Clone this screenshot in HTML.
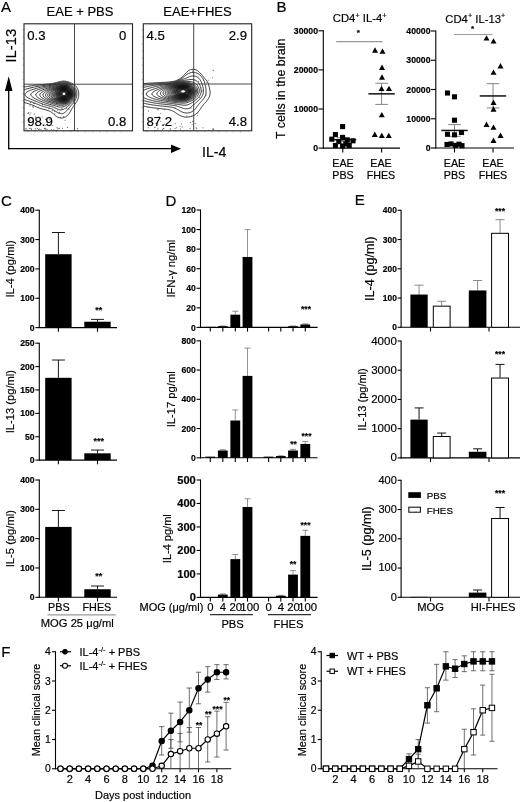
<!DOCTYPE html>
<html><head><meta charset="utf-8"><title>Figure</title>
<style>
html,body{margin:0;padding:0;background:#fff;}
svg{display:block;font-family:'Liberation Sans', sans-serif;}
text{stroke:#000;stroke-width:0.18px;}
</style></head>
<body>
<svg width="520" height="802" viewBox="0 0 520 802">
<rect x="0" y="0" width="520" height="802" fill="#fff"/>
<clipPath id="cA1"><rect x="24" y="23.8" width="108.5" height="107.00000000000001"/></clipPath>
<g clip-path="url(#cA1)">
<path d="M61.4,81.3 L62.0,81.2 L63.0,81.1 L64.0,81.1 L65.0,81.2 L66.0,81.3 L66.5,81.4 L67.5,81.6 L68.0,81.8 L69.0,82.1 L69.5,82.3 L70.5,82.7 L71.0,82.9 L71.7,83.3 L72.5,83.7 L73.0,84.0 L73.5,84.3 L74.3,84.8 L74.9,85.3 L75.5,85.8 L76.0,86.3 L76.4,86.8 L76.7,87.3 L77.0,87.8 L77.5,88.7 L77.8,89.3 L78.0,90.0 L78.3,90.8 L78.5,91.8 L78.6,92.3 L78.7,93.3 L78.7,94.3 L78.7,95.3 L78.6,96.3 L78.5,96.8 L78.3,97.8 L78.0,98.7 L77.8,99.3 L77.5,100.0 L77.1,100.8 L76.9,101.3 L76.5,101.9 L76.0,102.7 L75.6,103.3 L75.3,103.8 L74.9,104.3 L74.5,104.9 L74.0,105.6 L73.5,106.3 L73.1,106.8 L72.8,107.3 L72.5,107.8 L72.0,108.6 L71.6,109.3 L71.3,109.8 L71.0,110.3 L70.5,111.2 L70.2,111.8 L69.9,112.3 L69.5,112.9 L69.0,113.6 L68.5,114.2 L68.0,114.8 L67.5,115.3 L67.0,115.8 L66.5,116.2 L66.0,116.6 L65.5,116.9 L64.6,117.3 L64.0,117.6 L63.1,117.8 L62.5,117.9 L61.5,118.0 L60.5,117.9 L59.8,117.8 L59.0,117.6 L58.2,117.3 L57.5,117.0 L57.0,116.7 L56.4,116.3 L55.7,115.8 L55.1,115.3 L54.5,114.8 L54.0,114.4 L53.5,113.9 L53.0,113.5 L52.5,113.1 L52.0,112.7 L51.5,112.3 L50.7,111.8 L50.0,111.4 L49.5,111.2 L48.6,110.8 L48.0,110.6 L47.1,110.3 L46.5,110.1 L45.5,109.8 L45.0,109.7 L44.0,109.5 L43.5,109.3 L42.5,109.0 L41.8,108.8 L41.0,108.6 L40.2,108.3 L39.5,108.1 L38.8,107.8 L38.0,107.5 L37.5,107.3 L36.5,106.9 L36.0,106.7 L35.1,106.3 L34.5,106.0 L34.0,105.8 L33.0,105.4 L32.5,105.2 L31.5,104.8 L31.0,104.6 L30.1,104.3 L29.5,104.1 L28.7,103.8 L28.0,103.6 L27.1,103.3 L26.5,103.1 L25.5,102.8 L25.0,102.7 L24.0,102.4 L23.5,102.3 L22.5,102.0 L22.0,101.8 L21.0,101.5 L20.4,101.3 L19.5,101.0 L18.9,100.8 L18.0,100.5 L17.5,100.3 L16.5,99.8 L16.0,99.6 L15.4,99.3 L14.6,98.8 L14.0,98.4 L13.5,98.1 L13.0,97.6 L12.5,97.2 L12.0,96.5 L11.6,95.8 L11.4,95.3 L11.3,94.3 L11.5,93.4 L11.8,92.8 L12.1,92.3 L12.5,91.8 L13.1,91.3 L13.7,90.8 L14.4,90.3 L15.0,90.0 L15.5,89.7 L16.3,89.3 L17.0,89.0 L17.5,88.8 L18.5,88.5 L19.0,88.3 L20.0,88.0 L20.6,87.8 L21.5,87.6 L22.5,87.3 L23.0,87.2 L24.0,87.0 L25.0,86.8 L25.5,86.7 L26.5,86.6 L27.5,86.4 L28.1,86.3 L29.0,86.2 L30.0,86.0 L31.0,85.9 L31.5,85.8 L32.5,85.6 L33.5,85.5 L34.5,85.4 L35.3,85.3 L36.0,85.2 L37.0,85.1 L38.0,85.0 L39.0,84.9 L39.7,84.8 L40.5,84.7 L41.5,84.6 L42.5,84.5 L43.5,84.4 L44.5,84.4 L45.3,84.3 L46.0,84.2 L47.0,84.1 L48.0,84.0 L49.0,83.9 L50.0,83.8 L50.5,83.7 L51.5,83.5 L52.5,83.4 L53.0,83.3 L54.0,83.1 L55.0,82.8 L55.5,82.7 L56.5,82.4 L57.1,82.3 L58.0,82.0 L59.0,81.8 L59.5,81.7 L60.5,81.4 L61.4,81.3Z" fill="none" stroke="#111" stroke-width="0.85" />
<path d="M60.7,82.3 L61.5,82.2 L62.5,82.0 L63.5,82.0 L64.5,82.0 L65.5,82.1 L66.5,82.3 L67.0,82.4 L68.0,82.7 L68.5,82.9 L69.5,83.3 L70.0,83.5 L70.6,83.8 L71.5,84.3 L72.0,84.6 L72.5,84.9 L73.0,85.3 L73.5,85.8 L74.0,86.3 L74.5,86.9 L75.0,87.6 L75.4,88.3 L75.7,88.8 L76.0,89.6 L76.3,90.3 L76.5,91.2 L76.6,91.8 L76.8,92.8 L76.8,93.8 L76.8,94.8 L76.7,95.8 L76.5,96.8 L76.4,97.3 L76.1,98.3 L75.9,98.8 L75.5,99.6 L75.2,100.3 L74.9,100.8 L74.5,101.4 L74.0,102.1 L73.5,102.8 L73.1,103.3 L72.7,103.8 L72.2,104.3 L71.8,104.8 L71.3,105.3 L70.9,105.8 L70.4,106.3 L70.0,106.8 L69.5,107.3 L69.0,108.0 L68.5,108.6 L68.0,109.2 L67.5,109.8 L67.1,110.3 L66.7,110.8 L66.3,111.3 L65.7,111.8 L65.1,112.3 L64.5,112.7 L64.0,113.0 L63.4,113.3 L62.5,113.6 L61.5,113.7 L60.5,113.6 L59.5,113.4 L59.0,113.2 L58.0,112.8 L57.5,112.5 L57.0,112.2 L56.4,111.8 L55.7,111.3 L55.0,110.8 L54.5,110.5 L54.0,110.2 L53.4,109.8 L52.5,109.3 L52.0,109.1 L51.3,108.8 L50.5,108.5 L50.0,108.3 L49.0,108.0 L48.3,107.8 L47.5,107.6 L46.5,107.3 L46.0,107.2 L45.0,106.9 L44.5,106.8 L43.5,106.5 L42.9,106.3 L42.0,106.0 L41.4,105.8 L40.5,105.5 L40.0,105.3 L39.0,104.9 L38.5,104.7 L37.5,104.3 L37.0,104.1 L36.3,103.8 L35.5,103.5 L35.0,103.3 L34.0,102.9 L33.5,102.7 L32.5,102.3 L32.0,102.1 L31.1,101.8 L30.5,101.6 L29.7,101.3 L29.0,101.1 L28.3,100.8 L27.5,100.5 L26.8,100.3 L26.0,100.0 L25.4,99.8 L24.5,99.5 L24.0,99.3 L23.0,98.8 L22.5,98.6 L21.9,98.3 L21.0,97.8 L20.5,97.4 L20.0,97.1 L19.5,96.6 L19.0,96.0 L18.6,95.3 L18.5,94.6 L18.5,94.3 L18.8,93.3 L19.2,92.8 L19.6,92.3 L20.2,91.8 L21.0,91.3 L21.5,91.0 L22.0,90.7 L22.9,90.3 L23.5,90.0 L24.1,89.8 L25.0,89.5 L25.6,89.3 L26.5,89.0 L27.2,88.8 L28.0,88.6 L29.0,88.3 L29.5,88.2 L30.5,87.9 L31.0,87.8 L32.0,87.6 L33.0,87.3 L33.5,87.2 L34.5,87.0 L35.5,86.8 L36.0,86.7 L37.0,86.5 L38.0,86.3 L38.5,86.2 L39.5,86.1 L40.5,85.9 L41.3,85.8 L42.0,85.7 L43.0,85.6 L44.0,85.5 L45.0,85.3 L45.5,85.3 L46.5,85.2 L47.5,85.0 L48.5,84.9 L49.3,84.8 L50.0,84.7 L51.0,84.5 L52.0,84.4 L52.5,84.3 L53.5,84.0 L54.5,83.8 L55.0,83.7 L56.0,83.4 L56.6,83.3 L57.5,83.0 L58.5,82.8 L59.0,82.7 L60.0,82.4 L60.7,82.3Z" fill="none" stroke="#111" stroke-width="0.85" />
<path d="M63.1,82.8 L64.0,82.8 L64.5,82.8 L65.5,82.9 L66.5,83.1 L67.3,83.3 L68.0,83.5 L68.8,83.8 L69.5,84.1 L70.0,84.4 L70.7,84.8 L71.4,85.3 L72.0,85.8 L72.5,86.2 L73.0,86.8 L73.4,87.3 L73.8,87.8 L74.1,88.3 L74.5,89.1 L74.8,89.8 L75.0,90.3 L75.3,91.3 L75.5,92.3 L75.5,92.8 L75.6,93.8 L75.5,94.8 L75.5,95.3 L75.3,96.3 L75.1,97.3 L74.9,97.8 L74.5,98.7 L74.2,99.3 L74.0,99.8 L73.5,100.5 L73.0,101.2 L72.6,101.8 L72.1,102.3 L71.7,102.8 L71.2,103.3 L70.7,103.8 L70.1,104.3 L69.5,104.8 L69.0,105.2 L68.5,105.6 L68.0,106.0 L67.5,106.4 L67.0,106.8 L66.4,107.3 L65.8,107.8 L65.1,108.3 L64.5,108.7 L64.0,109.0 L63.5,109.3 L62.5,109.7 L61.9,109.8 L61.0,109.9 L60.0,109.8 L59.5,109.7 L58.5,109.4 L58.0,109.2 L57.1,108.8 L56.5,108.6 L56.0,108.3 L55.0,107.9 L54.5,107.7 L53.6,107.3 L53.0,107.1 L52.2,106.8 L51.5,106.6 L50.6,106.3 L50.0,106.1 L49.0,105.9 L48.5,105.7 L47.5,105.5 L46.9,105.3 L46.0,105.0 L45.2,104.8 L44.5,104.6 L43.6,104.3 L43.0,104.1 L42.1,103.8 L41.5,103.6 L40.8,103.3 L40.0,103.0 L39.5,102.8 L38.5,102.4 L38.0,102.2 L37.2,101.8 L36.5,101.5 L36.0,101.3 L35.0,100.9 L34.5,100.7 L33.6,100.3 L33.0,100.1 L32.4,99.8 L31.5,99.4 L31.0,99.2 L30.1,98.8 L29.5,98.5 L29.0,98.3 L28.0,97.8 L27.5,97.5 L27.0,97.2 L26.4,96.8 L25.8,96.3 L25.4,95.8 L25.0,94.9 L25.0,94.3 L25.1,93.8 L25.5,93.2 L26.0,92.7 L26.5,92.3 L27.2,91.8 L28.0,91.4 L28.5,91.1 L29.3,90.8 L30.0,90.5 L30.5,90.3 L31.5,89.9 L32.0,89.8 L33.0,89.4 L33.5,89.3 L34.5,88.9 L35.0,88.8 L36.0,88.5 L36.6,88.3 L37.5,88.1 L38.4,87.8 L39.0,87.7 L40.0,87.4 L40.5,87.3 L41.5,87.1 L42.5,86.9 L43.0,86.8 L44.0,86.6 L45.0,86.4 L45.5,86.3 L46.5,86.1 L47.5,86.0 L48.5,85.8 L49.0,85.7 L50.0,85.5 L51.0,85.4 L51.5,85.3 L52.5,85.1 L53.5,84.8 L54.0,84.7 L55.0,84.5 L55.7,84.3 L56.5,84.1 L57.5,83.8 L58.0,83.7 L59.0,83.4 L59.7,83.3 L60.5,83.1 L61.5,82.9 L62.5,82.8 L63.1,82.8Z" fill="none" stroke="#111" stroke-width="0.85" />
<path d="M60.8,83.8 L61.5,83.7 L62.5,83.5 L63.5,83.5 L64.5,83.5 L65.5,83.6 L66.5,83.8 L67.0,83.9 L68.0,84.3 L68.5,84.5 L69.2,84.8 L70.0,85.3 L70.5,85.6 L71.0,86.0 L71.5,86.4 L72.0,86.9 L72.5,87.5 L73.0,88.2 L73.4,88.8 L73.6,89.3 L74.0,90.2 L74.2,90.8 L74.4,91.8 L74.5,92.3 L74.6,93.3 L74.6,94.3 L74.5,95.3 L74.5,95.8 L74.2,96.8 L74.0,97.4 L73.7,98.3 L73.4,98.8 L73.0,99.5 L72.5,100.3 L72.1,100.8 L71.7,101.3 L71.2,101.8 L70.7,102.3 L70.1,102.8 L69.5,103.3 L69.0,103.7 L68.5,104.1 L68.0,104.4 L67.3,104.8 L66.5,105.3 L66.0,105.6 L65.5,105.8 L64.5,106.3 L64.0,106.5 L63.0,106.8 L62.5,106.9 L61.5,107.1 L60.5,107.1 L59.5,107.1 L58.5,106.9 L58.0,106.7 L57.0,106.5 L56.5,106.3 L55.5,106.0 L54.9,105.8 L54.0,105.5 L53.2,105.3 L52.5,105.1 L51.5,104.8 L51.0,104.7 L50.0,104.4 L49.5,104.3 L48.5,104.0 L47.8,103.8 L47.0,103.6 L46.2,103.3 L45.5,103.1 L44.6,102.8 L44.0,102.6 L43.3,102.3 L42.5,102.0 L42.0,101.8 L41.0,101.4 L40.5,101.2 L39.6,100.8 L39.0,100.5 L38.5,100.3 L37.5,99.8 L37.0,99.6 L36.5,99.3 L35.5,98.8 L35.0,98.5 L34.5,98.3 L33.7,97.8 L33.0,97.4 L32.5,97.0 L32.0,96.6 L31.5,96.1 L31.0,95.4 L30.8,94.8 L31.0,93.8 L31.3,93.3 L31.8,92.8 L32.5,92.3 L33.0,92.0 L33.5,91.7 L34.3,91.3 L35.0,91.0 L35.5,90.7 L36.5,90.3 L37.0,90.1 L37.9,89.8 L38.5,89.6 L39.3,89.3 L40.0,89.1 L40.8,88.8 L41.5,88.6 L42.4,88.3 L43.0,88.1 L44.0,87.9 L44.5,87.7 L45.5,87.5 L46.1,87.3 L47.0,87.1 L48.0,86.9 L48.5,86.7 L49.5,86.5 L50.5,86.3 L51.0,86.2 L52.0,86.0 L52.7,85.8 L53.5,85.6 L54.5,85.4 L55.0,85.2 L56.0,85.0 L56.7,84.8 L57.5,84.6 L58.5,84.3 L59.0,84.2 L60.0,83.9 L60.8,83.8Z" fill="none" stroke="#111" stroke-width="0.85" />
<path d="M62.0,84.3 L62.5,84.2 L63.5,84.2 L64.5,84.2 L65.5,84.3 L66.0,84.4 L67.0,84.6 L67.5,84.8 L68.5,85.2 L69.0,85.5 L69.6,85.8 L70.3,86.3 L70.8,86.8 L71.4,87.3 L71.8,87.8 L72.2,88.3 L72.5,88.8 L73.0,89.8 L73.2,90.3 L73.5,91.2 L73.7,91.8 L73.8,92.8 L73.9,93.8 L73.8,94.8 L73.6,95.8 L73.5,96.4 L73.2,97.3 L73.0,97.8 L72.5,98.8 L72.2,99.3 L71.8,99.8 L71.4,100.3 L71.0,100.8 L70.5,101.3 L70.0,101.8 L69.3,102.3 L68.6,102.8 L68.0,103.2 L67.5,103.5 L66.9,103.8 L66.0,104.2 L65.5,104.4 L64.5,104.8 L64.0,104.9 L63.0,105.2 L62.0,105.3 L61.5,105.3 L60.5,105.3 L60.0,105.3 L59.0,105.2 L58.0,105.0 L57.0,104.8 L56.5,104.7 L55.5,104.4 L55.0,104.3 L54.0,104.0 L53.2,103.8 L52.5,103.6 L51.5,103.3 L51.0,103.2 L50.0,102.9 L49.5,102.7 L48.5,102.4 L48.0,102.3 L47.0,101.9 L46.5,101.8 L45.5,101.4 L45.0,101.2 L44.0,100.8 L43.5,100.6 L42.9,100.3 L42.0,99.9 L41.5,99.6 L40.8,99.3 L40.0,98.8 L39.5,98.6 L39.0,98.3 L38.3,97.8 L37.6,97.3 L37.0,96.8 L36.5,96.3 L36.2,95.8 L35.9,95.3 L35.9,94.3 L36.1,93.8 L36.5,93.3 L37.0,92.8 L37.7,92.3 L38.5,91.8 L39.0,91.5 L39.5,91.2 L40.4,90.8 L41.0,90.6 L41.6,90.3 L42.5,89.9 L43.0,89.7 L44.0,89.4 L44.5,89.2 L45.5,88.8 L46.0,88.7 L47.0,88.3 L47.5,88.2 L48.5,87.9 L49.0,87.7 L50.0,87.4 L50.5,87.3 L51.5,87.0 L52.2,86.8 L53.0,86.6 L54.0,86.3 L54.5,86.2 L55.5,85.9 L56.0,85.8 L57.0,85.5 L57.6,85.3 L58.5,85.0 L59.5,84.8 L60.0,84.7 L61.0,84.5 L62.0,84.3Z" fill="none" stroke="#111" stroke-width="0.85" />
<path d="M62.7,84.8 L63.5,84.7 L64.5,84.8 L65.0,84.8 L66.0,84.9 L67.0,85.2 L67.5,85.4 L68.4,85.8 L69.0,86.1 L69.5,86.5 L70.0,86.8 L70.5,87.3 L71.0,87.8 L71.5,88.4 L72.0,89.2 L72.3,89.8 L72.6,90.3 L72.9,91.3 L73.0,91.8 L73.2,92.8 L73.2,93.8 L73.2,94.8 L73.0,95.8 L72.9,96.3 L72.5,97.3 L72.3,97.8 L72.0,98.4 L71.5,99.2 L71.0,99.8 L70.6,100.3 L70.1,100.8 L69.5,101.3 L69.0,101.7 L68.5,102.1 L68.0,102.4 L67.2,102.8 L66.5,103.1 L66.0,103.3 L65.0,103.7 L64.5,103.8 L63.5,104.0 L62.5,104.1 L61.5,104.2 L60.5,104.2 L59.5,104.1 L58.5,103.9 L57.9,103.8 L57.0,103.6 L56.0,103.4 L55.5,103.2 L54.5,103.0 L53.9,102.8 L53.0,102.5 L52.2,102.3 L51.5,102.1 L50.6,101.8 L50.0,101.6 L49.1,101.3 L48.5,101.1 L47.7,100.8 L47.0,100.5 L46.5,100.3 L45.5,99.8 L45.0,99.6 L44.4,99.3 L43.5,98.8 L43.0,98.5 L42.5,98.2 L41.9,97.8 L41.3,97.3 L40.7,96.8 L40.3,96.3 L40.0,95.8 L39.8,94.8 L40.0,94.0 L40.5,93.3 L41.0,92.8 L41.5,92.4 L42.0,92.1 L42.5,91.8 L43.3,91.3 L44.0,91.0 L44.5,90.7 L45.4,90.3 L46.0,90.0 L46.5,89.8 L47.5,89.4 L48.0,89.2 L49.0,88.8 L49.5,88.6 L50.3,88.3 L51.0,88.1 L51.8,87.8 L52.5,87.6 L53.4,87.3 L54.0,87.1 L55.0,86.8 L55.5,86.6 L56.5,86.3 L57.0,86.2 L58.0,85.9 L58.5,85.7 L59.5,85.4 L60.0,85.3 L61.0,85.0 L62.0,84.9 L62.7,84.8Z" fill="none" stroke="#111" stroke-width="0.85" />
<path d="M62.7,85.3 L63.5,85.2 L64.5,85.2 L65.1,85.3 L66.0,85.4 L67.0,85.7 L67.5,85.9 L68.3,86.3 L69.0,86.7 L69.5,87.1 L70.0,87.5 L70.5,88.0 L71.0,88.6 L71.5,89.3 L71.8,89.8 L72.0,90.3 L72.4,91.3 L72.5,91.8 L72.7,92.8 L72.7,93.8 L72.7,94.8 L72.5,95.7 L72.3,96.3 L72.0,97.2 L71.7,97.8 L71.4,98.3 L71.0,99.0 L70.5,99.6 L70.0,100.1 L69.5,100.6 L69.0,101.0 L68.5,101.4 L67.8,101.8 L67.0,102.2 L66.5,102.4 L65.5,102.8 L65.0,103.0 L64.0,103.2 L63.0,103.3 L62.5,103.3 L61.5,103.4 L60.6,103.3 L60.0,103.2 L59.0,103.1 L58.0,102.9 L57.5,102.8 L56.5,102.5 L55.6,102.3 L55.0,102.1 L54.0,101.8 L53.5,101.7 L52.5,101.4 L52.0,101.2 L51.0,100.8 L50.5,100.7 L49.6,100.3 L49.0,100.0 L48.5,99.8 L47.5,99.3 L47.0,99.1 L46.5,98.8 L45.7,98.3 L45.0,97.8 L44.5,97.4 L44.0,96.9 L43.5,96.4 L43.2,95.8 L43.0,95.1 L43.0,94.7 L43.3,93.8 L43.7,93.3 L44.2,92.8 L44.8,92.3 L45.5,91.8 L46.0,91.5 L46.5,91.2 L47.2,90.8 L48.0,90.4 L48.5,90.1 L49.2,89.8 L50.0,89.4 L50.5,89.2 L51.5,88.8 L52.0,88.6 L52.8,88.3 L53.5,88.0 L54.2,87.8 L55.0,87.5 L55.6,87.3 L56.5,87.0 L57.0,86.8 L58.0,86.5 L58.5,86.3 L59.5,86.0 L60.1,85.8 L61.0,85.6 L62.0,85.4 L62.7,85.3Z" fill="none" stroke="#111" stroke-width="0.85" />
<path d="M62.3,85.8 L63.0,85.7 L64.0,85.7 L65.0,85.7 L65.5,85.8 L66.5,86.0 L67.3,86.3 L68.0,86.6 L68.5,86.9 L69.1,87.3 L69.7,87.8 L70.2,88.3 L70.6,88.8 L71.0,89.4 L71.5,90.3 L71.7,90.8 L72.0,91.6 L72.2,92.3 L72.3,93.3 L72.3,94.3 L72.1,95.3 L72.0,95.8 L71.7,96.8 L71.5,97.3 L71.0,98.1 L70.5,98.8 L70.1,99.3 L69.7,99.8 L69.1,100.3 L68.5,100.8 L68.0,101.1 L67.5,101.4 L66.6,101.8 L66.0,102.1 L65.2,102.3 L64.5,102.5 L63.5,102.6 L62.5,102.7 L61.5,102.7 L60.5,102.6 L59.5,102.4 L58.8,102.3 L58.0,102.1 L57.0,101.9 L56.5,101.7 L55.5,101.4 L55.0,101.3 L54.0,100.9 L53.5,100.8 L52.5,100.4 L52.0,100.2 L51.0,99.8 L50.5,99.6 L50.0,99.3 L49.0,98.8 L48.5,98.5 L48.0,98.2 L47.5,97.8 L46.9,97.3 L46.4,96.8 L46.0,96.2 L45.6,95.3 L45.7,94.3 L46.0,93.7 L46.5,93.0 L47.0,92.5 L47.5,92.1 L48.0,91.7 L48.6,91.3 L49.4,90.8 L50.0,90.5 L50.5,90.2 L51.3,89.8 L52.0,89.5 L52.5,89.2 L53.5,88.8 L54.0,88.6 L54.7,88.3 L55.5,88.0 L56.0,87.8 L57.0,87.4 L57.5,87.2 L58.5,86.8 L59.0,86.6 L60.0,86.3 L60.5,86.2 L61.5,85.9 L62.3,85.8Z" fill="none" stroke="#111" stroke-width="0.85" />
<path d="M61.8,86.3 L62.5,86.2 L63.5,86.1 L64.5,86.1 L65.5,86.2 L66.0,86.3 L67.0,86.6 L67.5,86.8 L68.4,87.3 L69.0,87.7 L69.5,88.2 L70.0,88.7 L70.5,89.3 L70.8,89.8 L71.1,90.3 L71.5,91.3 L71.6,91.8 L71.8,92.8 L71.9,93.8 L71.8,94.8 L71.6,95.8 L71.4,96.3 L71.0,97.3 L70.7,97.8 L70.4,98.3 L70.0,98.8 L69.5,99.4 L69.0,99.8 L68.4,100.3 L67.6,100.8 L67.0,101.1 L66.5,101.4 L65.5,101.7 L65.0,101.9 L64.0,102.0 L63.0,102.1 L62.0,102.1 L61.0,102.1 L60.0,101.9 L59.5,101.8 L58.5,101.6 L57.5,101.3 L57.0,101.2 L56.0,100.8 L55.5,100.7 L54.5,100.3 L54.0,100.1 L53.2,99.8 L52.5,99.5 L52.0,99.2 L51.1,98.8 L50.5,98.4 L50.0,98.1 L49.5,97.7 L49.0,97.3 L48.5,96.8 L48.0,96.0 L47.7,95.3 L47.8,94.3 L48.0,93.7 L48.5,93.0 L49.0,92.5 L49.5,92.0 L50.0,91.6 L50.5,91.2 L51.2,90.8 L52.0,90.3 L52.5,90.0 L53.0,89.8 L54.0,89.3 L54.5,89.1 L55.1,88.8 L56.0,88.4 L56.5,88.2 L57.3,87.8 L58.0,87.5 L58.6,87.3 L59.5,86.9 L60.0,86.8 L61.0,86.5 L61.8,86.3Z" fill="none" stroke="#111" stroke-width="0.85" />
<path d="M61.3,86.8 L62.0,86.6 L63.0,86.5 L64.0,86.4 L65.0,86.5 L66.0,86.7 L66.5,86.8 L67.5,87.2 L68.0,87.5 L68.5,87.8 L69.1,88.3 L69.6,88.8 L70.0,89.3 L70.5,90.0 L70.9,90.8 L71.1,91.3 L71.4,92.3 L71.5,93.3 L71.5,93.8 L71.5,94.3 L71.3,95.3 L71.0,96.3 L70.8,96.8 L70.5,97.4 L70.0,98.2 L69.5,98.8 L69.0,99.3 L68.5,99.7 L68.0,100.1 L67.5,100.4 L66.7,100.8 L66.0,101.1 L65.4,101.3 L64.5,101.5 L63.5,101.6 L62.5,101.7 L61.5,101.6 L60.5,101.5 L59.7,101.3 L59.0,101.1 L58.0,100.8 L57.5,100.7 L56.5,100.3 L56.0,100.1 L55.1,99.8 L54.5,99.5 L54.0,99.3 L53.0,98.8 L52.5,98.5 L52.0,98.2 L51.4,97.8 L50.8,97.3 L50.3,96.8 L49.9,96.3 L49.5,95.4 L49.4,94.8 L49.5,94.2 L49.9,93.3 L50.3,92.8 L50.7,92.3 L51.3,91.8 L51.9,91.3 L52.5,90.9 L53.0,90.6 L53.5,90.3 L54.4,89.8 L55.0,89.5 L55.5,89.2 L56.3,88.8 L57.0,88.5 L57.5,88.2 L58.5,87.8 L59.0,87.6 L59.7,87.3 L60.5,87.0 L61.3,86.8Z" fill="none" stroke="#111" stroke-width="0.85" />
<path d="M63.3,86.8 L64.0,86.8 L64.7,86.8 L65.5,86.9 L66.5,87.2 L67.0,87.4 L67.8,87.8 L68.5,88.2 L69.0,88.7 L69.5,89.2 L70.0,89.8 L70.3,90.3 L70.5,90.8 L70.9,91.8 L71.0,92.3 L71.2,93.3 L71.1,94.3 L71.0,95.2 L70.9,95.8 L70.5,96.7 L70.2,97.3 L69.9,97.8 L69.5,98.3 L69.0,98.8 L68.5,99.3 L67.8,99.8 L67.0,100.3 L66.5,100.5 L65.7,100.8 L65.0,101.0 L64.0,101.2 L63.0,101.2 L62.0,101.2 L61.0,101.1 L60.0,100.9 L59.5,100.8 L58.5,100.5 L58.0,100.3 L57.0,99.9 L56.5,99.7 L55.6,99.3 L55.0,99.0 L54.5,98.8 L53.7,98.3 L53.0,97.9 L52.5,97.5 L52.0,97.0 L51.5,96.5 L51.1,95.8 L50.9,95.3 L50.9,94.3 L51.0,93.8 L51.5,93.0 L52.0,92.4 L52.5,91.9 L53.0,91.5 L53.5,91.1 L54.0,90.8 L54.7,90.3 L55.5,89.8 L56.0,89.5 L56.5,89.3 L57.3,88.8 L58.0,88.5 L58.5,88.2 L59.5,87.8 L60.0,87.6 L60.8,87.3 L61.5,87.1 L62.5,86.9 L63.3,86.8Z" fill="none" stroke="#111" stroke-width="0.85" />
<path d="M62.1,87.3 L63.0,87.1 L64.0,87.1 L65.0,87.1 L65.8,87.3 L66.5,87.5 L67.2,87.8 L68.0,88.3 L68.5,88.6 L69.0,89.1 L69.5,89.7 L69.9,90.3 L70.2,90.8 L70.5,91.6 L70.7,92.3 L70.8,93.3 L70.8,94.3 L70.7,95.3 L70.5,95.8 L70.1,96.8 L69.8,97.3 L69.5,97.8 L69.0,98.4 L68.5,98.9 L67.9,99.3 L67.2,99.8 L66.5,100.1 L66.0,100.3 L65.0,100.6 L64.0,100.8 L63.5,100.8 L62.5,100.8 L62.0,100.8 L61.0,100.7 L60.0,100.4 L59.5,100.3 L58.5,99.9 L58.0,99.8 L57.0,99.3 L56.5,99.1 L55.9,98.8 L55.0,98.3 L54.5,98.0 L54.0,97.6 L53.5,97.2 L53.0,96.7 L52.5,96.0 L52.2,95.3 L52.1,94.3 L52.5,93.3 L52.8,92.8 L53.2,92.3 L53.7,91.8 L54.3,91.3 L55.0,90.8 L55.5,90.4 L56.0,90.1 L56.5,89.8 L57.3,89.3 L58.0,88.9 L58.5,88.6 L59.2,88.3 L60.0,88.0 L60.5,87.8 L61.5,87.4 L62.1,87.3Z" fill="none" stroke="#111" stroke-width="0.85" />
<path d="M61.4,87.8 L62.0,87.6 L63.0,87.4 L64.0,87.4 L65.0,87.4 L66.0,87.7 L66.5,87.8 L67.5,88.3 L68.0,88.6 L68.5,89.0 L69.0,89.5 L69.5,90.2 L69.9,90.8 L70.1,91.3 L70.4,92.3 L70.5,92.9 L70.6,93.8 L70.5,94.5 L70.3,95.3 L70.0,96.3 L69.8,96.8 L69.4,97.3 L69.0,97.9 L68.5,98.4 L68.0,98.9 L67.4,99.3 L66.5,99.8 L66.0,100.0 L65.0,100.3 L64.5,100.4 L63.5,100.5 L62.5,100.5 L61.5,100.4 L61.0,100.3 L60.0,100.0 L59.4,99.8 L58.5,99.5 L58.0,99.2 L57.1,98.8 L56.5,98.5 L56.0,98.2 L55.4,97.8 L54.8,97.3 L54.2,96.8 L53.8,96.3 L53.5,95.8 L53.2,94.8 L53.3,93.8 L53.5,93.3 L54.0,92.6 L54.5,92.0 L55.0,91.5 L55.5,91.1 L56.0,90.7 L56.5,90.3 L57.3,89.8 L58.0,89.4 L58.5,89.1 L59.0,88.8 L60.0,88.3 L60.5,88.1 L61.4,87.8Z" fill="none" stroke="#111" stroke-width="0.85" />
<path d="M62.6,87.8 L63.5,87.7 L64.5,87.7 L65.3,87.8 L66.0,88.0 L66.9,88.3 L67.5,88.6 L68.0,89.0 L68.5,89.4 L69.0,90.0 L69.5,90.8 L69.8,91.3 L70.0,91.9 L70.2,92.8 L70.3,93.8 L70.2,94.8 L70.0,95.4 L69.7,96.3 L69.4,96.8 L69.0,97.4 L68.5,98.0 L68.0,98.5 L67.5,98.9 L66.8,99.3 L66.0,99.7 L65.5,99.8 L64.5,100.1 L63.5,100.2 L62.5,100.1 L61.5,100.0 L60.7,99.8 L60.0,99.6 L59.2,99.3 L58.5,99.0 L58.0,98.7 L57.2,98.3 L56.5,97.8 L56.0,97.5 L55.5,97.0 L55.0,96.5 L54.5,95.8 L54.3,95.3 L54.2,94.3 L54.5,93.3 L54.7,92.8 L55.1,92.3 L55.5,91.8 L56.1,91.3 L56.6,90.8 L57.3,90.3 L58.0,89.8 L58.5,89.5 L59.0,89.2 L59.7,88.8 L60.5,88.4 L61.0,88.2 L62.0,87.9 L62.6,87.8Z" fill="none" stroke="#111" stroke-width="0.85" />
<path d="M61.8,88.3 L62.5,88.1 L63.5,88.0 L64.5,88.0 L65.5,88.1 L66.1,88.3 L67.0,88.7 L67.5,89.0 L68.0,89.4 L68.5,89.8 L69.0,90.5 L69.5,91.3 L69.7,91.8 L69.9,92.8 L70.0,93.8 L69.9,94.8 L69.6,95.8 L69.4,96.3 L69.0,96.9 L68.5,97.6 L68.0,98.1 L67.5,98.5 L67.0,98.8 L66.1,99.3 L65.5,99.5 L64.5,99.7 L64.0,99.8 L63.0,99.8 L62.5,99.8 L61.5,99.6 L60.5,99.4 L60.0,99.2 L59.1,98.8 L58.5,98.5 L58.0,98.2 L57.3,97.8 L56.7,97.3 L56.1,96.8 L55.7,96.3 L55.4,95.8 L55.0,94.8 L55.1,93.8 L55.5,92.9 L55.9,92.3 L56.3,91.8 L56.8,91.3 L57.3,90.8 L57.9,90.3 L58.5,89.9 L59.0,89.6 L59.5,89.3 L60.4,88.8 L61.0,88.6 L61.8,88.3Z" fill="none" stroke="#111" stroke-width="0.85" />
<path d="M63.0,88.3 L64.0,88.2 L65.0,88.3 L65.5,88.4 L66.5,88.7 L67.0,89.0 L67.5,89.3 L68.1,89.8 L68.5,90.3 L69.0,91.0 L69.4,91.8 L69.5,92.3 L69.7,93.3 L69.7,94.3 L69.5,95.2 L69.3,95.8 L69.0,96.4 L68.5,97.2 L68.0,97.7 L67.5,98.2 L67.0,98.5 L66.5,98.8 L65.5,99.2 L65.0,99.3 L64.0,99.5 L63.0,99.5 L62.0,99.4 L61.5,99.3 L60.5,99.0 L60.0,98.8 L59.0,98.3 L58.5,98.0 L58.0,97.7 L57.5,97.3 L56.9,96.8 L56.5,96.3 L56.0,95.5 L55.8,94.8 L55.8,93.8 L56.0,93.3 L56.5,92.4 L56.9,91.8 L57.4,91.3 L57.9,90.8 L58.5,90.3 L59.0,90.0 L59.5,89.6 L60.1,89.3 L61.0,88.9 L61.5,88.7 L62.5,88.4 L63.0,88.3Z" fill="none" stroke="#111" stroke-width="0.85" />
<path d="M62.0,88.8 L63.0,88.6 L64.0,88.5 L65.0,88.6 L65.9,88.8 L66.5,89.0 L67.0,89.3 L67.7,89.8 L68.2,90.3 L68.6,90.8 L69.0,91.6 L69.3,92.3 L69.4,93.3 L69.4,94.3 L69.2,95.3 L69.0,95.8 L68.5,96.7 L68.0,97.3 L67.5,97.8 L67.0,98.2 L66.5,98.5 L65.8,98.8 L65.0,99.1 L64.0,99.2 L63.0,99.2 L62.0,99.1 L61.0,98.8 L60.5,98.6 L59.7,98.3 L59.0,97.9 L58.5,97.5 L58.0,97.2 L57.5,96.7 L57.0,96.0 L56.6,95.3 L56.5,94.8 L56.5,93.8 L56.6,93.3 L57.0,92.5 L57.5,91.8 L58.0,91.3 L58.5,90.8 L59.0,90.4 L59.5,90.0 L60.0,89.7 L60.8,89.3 L61.5,89.0 L62.0,88.8Z" fill="none" stroke="#111" stroke-width="0.85" />
<path d="M63.4,88.8 L64.0,88.8 L64.7,88.8 L65.5,88.9 L66.5,89.3 L67.0,89.6 L67.5,90.0 L68.0,90.5 L68.5,91.2 L68.8,91.8 L69.0,92.4 L69.2,93.3 L69.1,94.3 L69.0,95.0 L68.7,95.8 L68.4,96.3 L68.0,96.9 L67.5,97.4 L67.0,97.9 L66.2,98.3 L65.5,98.6 L64.8,98.8 L64.0,98.9 L63.0,98.9 L62.2,98.8 L61.5,98.6 L60.5,98.3 L60.0,98.0 L59.5,97.8 L58.8,97.3 L58.3,96.8 L57.8,96.3 L57.5,95.8 L57.1,94.8 L57.1,93.8 L57.4,92.8 L57.7,92.3 L58.0,91.8 L58.5,91.3 L59.0,90.8 L59.6,90.3 L60.4,89.8 L61.0,89.5 L61.5,89.3 L62.5,89.0 L63.4,88.8Z" fill="none" stroke="#111" stroke-width="0.85" />
<path d="M62.3,89.3 L63.0,89.1 L64.0,89.0 L65.0,89.1 L65.8,89.3 L66.5,89.6 L67.0,89.9 L67.5,90.4 L68.0,90.9 L68.5,91.8 L68.7,92.3 L68.9,93.3 L68.9,94.3 L68.6,95.3 L68.4,95.8 L68.0,96.5 L67.5,97.1 L67.0,97.5 L66.5,97.9 L65.6,98.3 L65.0,98.5 L64.0,98.6 L63.0,98.6 L62.0,98.5 L61.4,98.3 L60.5,97.9 L60.0,97.6 L59.5,97.3 L58.9,96.8 L58.4,96.3 L58.0,95.7 L57.6,94.8 L57.6,93.8 L57.9,92.8 L58.2,92.3 L58.5,91.8 L59.0,91.3 L59.5,90.8 L60.2,90.3 L61.0,89.8 L61.5,89.6 L62.3,89.3Z" fill="none" stroke="#111" stroke-width="0.85" />
<path d="M63.7,89.3 L64.5,89.3 L65.0,89.4 L66.0,89.7 L66.5,89.9 L67.0,90.3 L67.6,90.8 L68.0,91.4 L68.4,92.3 L68.6,92.8 L68.6,93.8 L68.5,94.8 L68.3,95.3 L68.0,96.0 L67.5,96.7 L67.0,97.2 L66.5,97.5 L66.0,97.8 L65.0,98.2 L64.5,98.3 L63.5,98.4 L62.8,98.3 L62.0,98.1 L61.0,97.8 L60.5,97.5 L60.0,97.2 L59.4,96.8 L58.9,96.3 L58.5,95.7 L58.1,94.8 L58.1,93.8 L58.4,92.8 L58.7,92.3 L59.0,91.8 L59.5,91.3 L60.0,90.8 L60.7,90.3 L61.5,89.9 L62.0,89.7 L63.0,89.4 L63.7,89.3Z" fill="none" stroke="#111" stroke-width="0.85" />
<path d="M62.4,89.8 L63.0,89.7 L64.0,89.5 L65.0,89.6 L65.6,89.8 L66.5,90.2 L67.0,90.6 L67.5,91.1 L67.9,91.8 L68.1,92.3 L68.4,93.3 L68.3,94.3 L68.1,95.3 L67.8,95.8 L67.5,96.3 L67.0,96.8 L66.4,97.3 L65.5,97.7 L65.0,97.9 L64.0,98.1 L63.0,98.0 L62.0,97.8 L61.5,97.7 L60.8,97.3 L60.0,96.8 L59.5,96.3 L59.1,95.8 L58.8,95.3 L58.5,94.3 L58.7,93.3 L59.0,92.5 L59.5,91.8 L59.9,91.3 L60.5,90.8 L61.0,90.5 L61.5,90.2 L62.4,89.8Z" fill="none" stroke="#111" stroke-width="0.85" />
<path d="M61.9,90.3 L62.5,90.1 L63.5,89.8 L64.5,89.8 L65.5,90.1 L66.1,90.3 L66.8,90.8 L67.3,91.3 L67.6,91.8 L68.0,92.8 L68.1,93.3 L68.1,94.3 L68.0,94.8 L67.5,95.8 L67.1,96.3 L66.6,96.8 L66.0,97.2 L65.5,97.4 L64.5,97.7 L63.5,97.8 L62.5,97.7 L61.5,97.3 L61.0,97.1 L60.5,96.7 L60.0,96.3 L59.5,95.7 L59.1,94.8 L59.0,94.3 L59.0,93.8 L59.3,92.8 L59.5,92.3 L60.0,91.7 L60.5,91.2 L61.0,90.8 L61.9,90.3Z" fill="none" stroke="#111" stroke-width="0.85" />
<path d="M62.7,90.3 L63.5,90.1 L64.5,90.1 L65.4,90.3 L66.0,90.6 L66.5,90.9 L67.0,91.4 L67.5,92.2 L67.7,92.8 L67.8,93.8 L67.7,94.8 L67.5,95.3 L67.0,96.0 L66.5,96.5 L66.0,96.9 L65.1,97.3 L64.5,97.4 L63.5,97.5 L62.5,97.3 L62.0,97.2 L61.2,96.8 L60.5,96.3 L60.1,95.8 L59.7,95.3 L59.5,94.6 L59.4,93.8 L59.5,93.3 L60.0,92.3 L60.4,91.8 L60.9,91.3 L61.5,90.8 L62.0,90.6 L62.7,90.3Z" fill="none" stroke="#111" stroke-width="0.85" />
<path d="M62.2,90.8 L63.0,90.5 L64.0,90.4 L65.0,90.5 L65.8,90.8 L66.5,91.3 L67.0,91.8 L67.2,92.3 L67.5,93.1 L67.6,93.8 L67.5,94.3 L67.1,95.3 L66.8,95.8 L66.3,96.3 L65.6,96.8 L65.0,97.0 L64.0,97.2 L63.0,97.1 L62.0,96.8 L61.5,96.6 L61.0,96.2 L60.5,95.7 L60.0,94.9 L59.9,94.3 L59.9,93.3 L60.1,92.8 L60.5,92.2 L61.0,91.6 L61.5,91.2 L62.2,90.8Z" fill="none" stroke="#111" stroke-width="0.85" />
<path d="M63.1,90.8 L64.0,90.7 L65.0,90.8 L65.5,91.0 L66.1,91.3 L66.6,91.8 L67.0,92.5 L67.2,93.3 L67.2,94.3 L67.0,94.9 L66.5,95.7 L66.0,96.2 L65.5,96.5 L64.7,96.8 L64.0,96.9 L63.0,96.8 L62.5,96.7 L61.7,96.3 L61.1,95.8 L60.7,95.3 L60.4,94.8 L60.3,93.8 L60.5,92.9 L60.8,92.3 L61.3,91.8 L61.9,91.3 L62.5,91.0 L63.1,90.8Z" fill="none" stroke="#111" stroke-width="0.85" />
<path d="M62.6,91.3 L63.5,91.0 L64.5,91.0 L65.5,91.3 L66.0,91.7 L66.5,92.2 L66.8,92.8 L66.9,93.8 L66.7,94.8 L66.4,95.3 L66.0,95.8 L65.2,96.3 L64.5,96.5 L63.5,96.6 L62.5,96.3 L62.0,96.1 L61.5,95.7 L61.0,95.0 L60.7,94.3 L60.8,93.3 L61.0,92.8 L61.5,92.1 L62.0,91.7 L62.6,91.3Z" fill="none" stroke="#111" stroke-width="0.85" />
<path d="M62.4,91.8 L63.0,91.5 L64.0,91.3 L65.0,91.5 L65.6,91.8 L66.1,92.3 L66.5,93.1 L66.6,93.8 L66.5,94.4 L66.0,95.3 L65.5,95.7 L65.0,96.0 L64.0,96.2 L63.0,96.1 L62.3,95.8 L61.7,95.3 L61.3,94.8 L61.1,93.8 L61.4,92.8 L61.8,92.3 L62.4,91.8Z" fill="none" stroke="#111" stroke-width="0.85" />
<path d="M63.3,91.8 L64.0,91.7 L64.8,91.8 L65.5,92.2 L66.0,92.8 L66.2,93.3 L66.1,94.3 L65.9,94.8 L65.4,95.3 L64.5,95.8 L64.0,95.9 L63.4,95.8 L62.5,95.4 L62.0,95.0 L61.7,94.3 L61.7,93.3 L62.0,92.7 L62.5,92.2 L63.3,91.8Z" fill="none" stroke="#111" stroke-width="0.85" />
<path d="M63.2,92.3 L64.0,92.1 L64.8,92.3 L65.5,92.8 L65.7,93.3 L65.6,94.3 L65.3,94.8 L64.6,95.3 L64.0,95.4 L63.3,95.3 L62.5,94.8 L62.2,94.3 L62.3,93.3 L62.5,92.8 L63.2,92.3Z" fill="none" stroke="#111" stroke-width="0.85" />
<path d="M42.5,104.4h0.01M58.2,102.1h0.01M52.7,110.6h0.01M29.8,114.7h0.01M28.8,112.6h0.01M30.4,102.6h0.01M47.4,124.0h0.01M32.9,106.5h0.01M57.1,127.5h0.01M54.7,111.5h0.01M73.9,101.4h0.01M68.2,108.4h0.01M33.9,103.4h0.01M41.8,123.7h0.01M35.7,116.9h0.01M57.7,110.8h0.01M53.3,101.8h0.01M29.9,106.0h0.01M59.7,112.4h0.01M42.1,117.0h0.01M48.8,108.7h0.01M65.1,120.3h0.01M38.7,116.7h0.01M52.2,125.4h0.01M62.0,108.4h0.01M74.0,103.4h0.01M47.1,122.0h0.01M34.3,114.2h0.01M28.9,119.4h0.01M63.7,116.6h0.01M69.0,109.1h0.01M60.4,117.2h0.01M54.8,113.2h0.01M67.3,127.4h0.01M49.8,119.3h0.01M29.9,120.3h0.01M58.1,128.8h0.01M66.5,108.3h0.01M45.5,119.4h0.01M28.1,113.4h0.01M35.1,103.4h0.01M29.8,122.3h0.01M33.2,107.2h0.01M45.8,125.3h0.01M30.9,113.0h0.01M55.7,130.7h0.01M70.2,130.6h0.01M41.0,129.2h0.01M45.4,130.7h0.01M77.7,128.5h0.01M35.5,128.7h0.01M38.6,129.5h0.01M57.8,128.8h0.01M26.2,129.3h0.01M45.9,129.7h0.01M77.5,130.1h0.01M53.8,129.9h0.01M62.5,128.2h0.01M74.6,130.3h0.01M73.2,130.4h0.01M47.2,129.2h0.01M31.6,129.9h0.01M29.4,128.2h0.01M37.3,128.5h0.01M44.4,128.2h0.01M26.0,128.5h0.01M31.5,129.1h0.01M27.4,130.6h0.01M59.2,128.4h0.01M39.6,129.0h0.01M45.7,128.4h0.01M71.8,131.0h0.01M51.2,129.5h0.01M30.6,128.3h0.01M44.5,128.8h0.01" fill="none" stroke="#555" stroke-width="1.1" stroke-linecap="round"/>
</g>
<line x1="74.50" y1="23.80" x2="74.50" y2="130.80" stroke="#333" stroke-width="0.9" stroke-linecap="butt"/>
<line x1="24.00" y1="84.20" x2="132.50" y2="84.20" stroke="#333" stroke-width="0.9" stroke-linecap="butt"/>
<rect x="24.00" y="23.80" width="108.50" height="107.00" fill="none" stroke="#222" stroke-width="1.1"/>
<path d="M22.5,29.8H24M22.5,36.9H24M22.5,43.9H24M22.5,51.0H24M22.5,58.1H24M22.5,65.2H24M22.5,72.2H24M22.5,79.3H24M22.5,86.4H24M22.5,93.4H24M22.5,100.5H24M22.5,107.6H24M22.5,114.7H24M22.5,121.7H24M28.0,130.8V132.3M35.2,130.8V132.3M42.4,130.8V132.3M49.5,130.8V132.3M56.7,130.8V132.3M63.9,130.8V132.3M71.1,130.8V132.3M78.2,130.8V132.3M85.4,130.8V132.3M92.6,130.8V132.3M99.8,130.8V132.3M107.0,130.8V132.3M114.1,130.8V132.3M121.3,130.8V132.3" fill="none" stroke="#666" stroke-width="0.5" />
<text x="27.20" y="39.60" font-size="13.2" text-anchor="start" fill="#000" >0.3</text>
<text x="126.30" y="39.60" font-size="13.2" text-anchor="end" fill="#000" >0</text>
<text x="27.20" y="126.30" font-size="13.2" text-anchor="start" fill="#000" >98.9</text>
<text x="126.30" y="126.30" font-size="13.2" text-anchor="end" fill="#000" >0.8</text>
<clipPath id="cA2"><rect x="143.3" y="23.8" width="108.39999999999998" height="107.00000000000001"/></clipPath>
<g clip-path="url(#cA2)">
<path d="M190.3,69.8 L190.8,69.6 L191.8,69.4 L192.8,69.3 L193.8,69.4 L194.8,69.5 L195.8,69.8 L196.3,70.0 L196.9,70.3 L197.7,70.8 L198.3,71.3 L198.8,71.7 L199.3,72.2 L199.8,72.7 L200.3,73.2 L200.8,73.7 L201.3,74.3 L201.7,74.8 L202.2,75.3 L202.6,75.8 L203.0,76.3 L203.4,76.8 L203.8,77.3 L204.3,77.8 L204.8,78.5 L205.3,79.1 L205.8,79.7 L206.3,80.3 L206.7,80.8 L207.1,81.3 L207.4,81.8 L207.8,82.5 L208.2,83.3 L208.4,83.8 L208.7,84.8 L208.8,85.3 L209.1,86.3 L209.3,87.3 L209.4,87.8 L209.6,88.8 L209.8,89.7 L209.9,90.3 L210.1,91.3 L210.1,92.3 L210.1,93.3 L210.0,94.3 L209.8,95.3 L209.7,95.8 L209.3,96.8 L209.1,97.3 L208.8,97.9 L208.3,98.7 L207.9,99.3 L207.6,99.8 L207.2,100.3 L206.8,100.8 L206.3,101.4 L205.8,102.0 L205.3,102.6 L204.8,103.1 L204.3,103.7 L203.8,104.3 L203.4,104.8 L203.0,105.3 L202.6,105.8 L202.2,106.3 L201.8,106.9 L201.3,107.6 L200.9,108.3 L200.5,108.8 L200.2,109.3 L199.8,109.9 L199.3,110.6 L198.8,111.2 L198.3,111.8 L197.9,112.3 L197.4,112.8 L196.9,113.3 L196.3,113.8 L195.8,114.2 L195.3,114.6 L194.8,114.9 L194.1,115.3 L193.3,115.7 L192.8,115.9 L191.8,116.3 L191.3,116.5 L190.3,116.7 L189.8,116.8 L188.8,117.0 L187.8,117.1 L186.8,117.1 L185.8,117.1 L184.8,117.0 L183.9,116.8 L183.3,116.7 L182.3,116.4 L181.8,116.2 L180.8,115.8 L180.3,115.6 L179.6,115.3 L178.8,114.8 L178.3,114.6 L177.8,114.2 L177.1,113.8 L176.4,113.3 L175.8,112.9 L175.3,112.5 L174.8,112.2 L174.2,111.8 L173.3,111.3 L172.8,111.0 L172.3,110.8 L171.3,110.4 L170.8,110.2 L169.8,109.9 L169.3,109.8 L168.3,109.6 L167.3,109.4 L166.6,109.3 L165.8,109.2 L164.8,109.1 L163.8,109.0 L162.8,108.9 L162.0,108.8 L161.3,108.7 L160.3,108.6 L159.3,108.5 L158.3,108.4 L157.3,108.3 L156.8,108.3 L155.8,108.1 L154.8,108.0 L153.8,107.9 L153.3,107.8 L152.3,107.7 L151.3,107.5 L150.3,107.4 L149.8,107.3 L148.8,107.1 L147.8,107.0 L147.0,106.8 L146.3,106.7 L145.3,106.5 L144.4,106.3 L143.8,106.2 L142.8,106.0 L142.0,105.8 L141.3,105.6 L140.3,105.4 L139.8,105.3 L138.8,105.0 L138.0,104.8 L137.3,104.6 L136.3,104.3 L135.8,104.2 L134.8,103.9 L134.3,103.7 L133.3,103.4 L132.8,103.2 L131.8,102.8 L131.3,102.6 L130.6,102.3 L129.8,101.9 L129.3,101.7 L128.6,101.3 L127.8,100.9 L127.3,100.6 L126.8,100.3 L126.1,99.8 L125.4,99.3 L124.8,98.8 L124.3,98.3 L123.8,97.8 L123.4,97.3 L123.1,96.8 L122.8,96.3 L122.4,95.3 L122.3,94.8 L122.2,93.8 L122.3,93.2 L122.5,92.3 L122.8,91.7 L123.3,90.9 L123.8,90.3 L124.2,89.8 L124.7,89.3 L125.3,88.8 L125.8,88.4 L126.3,88.1 L126.8,87.8 L127.6,87.3 L128.3,86.9 L128.8,86.7 L129.6,86.3 L130.3,86.0 L131.0,85.8 L131.8,85.5 L132.6,85.3 L133.3,85.1 L134.3,84.9 L134.8,84.8 L135.8,84.6 L136.8,84.4 L137.4,84.3 L138.3,84.2 L139.3,84.0 L140.3,83.9 L141.2,83.8 L141.8,83.7 L142.8,83.6 L143.8,83.5 L144.8,83.5 L145.8,83.4 L146.8,83.3 L147.3,83.3 L148.3,83.2 L149.3,83.1 L150.3,83.1 L151.3,83.0 L152.3,83.0 L153.3,82.9 L154.3,82.8 L155.3,82.8 L155.8,82.8 L156.8,82.7 L157.8,82.6 L158.8,82.6 L159.8,82.5 L160.8,82.5 L161.8,82.4 L162.8,82.4 L163.8,82.3 L164.3,82.3 L165.3,82.2 L166.3,82.2 L167.3,82.1 L168.3,82.0 L169.3,81.9 L170.3,81.8 L170.8,81.8 L171.8,81.6 L172.8,81.4 L173.7,81.3 L174.3,81.1 L175.3,80.9 L175.8,80.7 L176.8,80.3 L177.3,80.1 L178.0,79.8 L178.8,79.4 L179.3,79.1 L179.8,78.8 L180.5,78.3 L181.1,77.8 L181.7,77.3 L182.3,76.8 L182.8,76.3 L183.3,75.8 L183.8,75.3 L184.2,74.8 L184.7,74.3 L185.1,73.8 L185.6,73.3 L186.1,72.8 L186.6,72.3 L187.1,71.8 L187.7,71.3 L188.3,70.8 L188.8,70.5 L189.3,70.2 L190.3,69.8Z" fill="none" stroke="#111" stroke-width="0.85" />
<path d="M190.5,72.8 L191.3,72.6 L192.3,72.5 L193.3,72.5 L194.3,72.6 L195.3,72.7 L195.8,72.8 L196.8,73.1 L197.3,73.3 L198.3,73.8 L198.8,74.1 L199.3,74.5 L199.8,74.9 L200.3,75.4 L200.8,75.9 L201.3,76.5 L201.8,77.1 L202.3,77.7 L202.7,78.3 L203.0,78.8 L203.3,79.3 L203.8,80.3 L204.0,80.8 L204.3,81.6 L204.5,82.3 L204.8,83.3 L204.9,83.8 L205.2,84.8 L205.3,85.5 L205.5,86.3 L205.7,87.3 L205.8,88.0 L205.9,88.8 L206.0,89.8 L206.1,90.8 L206.1,91.8 L206.0,92.8 L205.9,93.8 L205.8,94.3 L205.5,95.3 L205.3,95.8 L204.8,96.8 L204.6,97.3 L204.3,97.8 L203.8,98.5 L203.3,99.2 L202.8,99.8 L202.4,100.3 L201.9,100.8 L201.5,101.3 L201.0,101.8 L200.5,102.3 L200.1,102.8 L199.6,103.3 L199.2,103.8 L198.8,104.3 L198.3,104.9 L197.8,105.5 L197.3,106.2 L196.8,106.8 L196.5,107.3 L196.1,107.8 L195.7,108.3 L195.3,108.8 L194.8,109.4 L194.3,109.9 L193.8,110.3 L193.2,110.8 L192.5,111.3 L191.8,111.7 L191.3,112.0 L190.6,112.3 L189.8,112.6 L188.9,112.8 L188.3,112.9 L187.3,113.0 L186.3,113.0 L185.3,112.9 L184.7,112.8 L183.8,112.6 L182.9,112.3 L182.3,112.1 L181.7,111.8 L180.8,111.4 L180.3,111.1 L179.8,110.8 L179.0,110.3 L178.3,109.9 L177.8,109.6 L177.2,109.3 L176.3,108.8 L175.8,108.6 L175.1,108.3 L174.3,108.0 L173.7,107.8 L172.8,107.6 L171.8,107.3 L171.3,107.2 L170.3,107.0 L169.3,106.9 L168.6,106.8 L167.8,106.7 L166.8,106.6 L165.8,106.5 L164.8,106.4 L163.9,106.3 L163.3,106.2 L162.3,106.1 L161.3,106.0 L160.3,105.9 L159.3,105.8 L158.8,105.8 L157.8,105.6 L156.8,105.5 L155.8,105.4 L155.2,105.3 L154.3,105.2 L153.3,105.0 L152.3,104.9 L151.8,104.8 L150.8,104.6 L149.8,104.5 L149.0,104.3 L148.3,104.2 L147.3,104.0 L146.4,103.8 L145.8,103.7 L144.8,103.4 L144.2,103.3 L143.3,103.1 L142.3,102.8 L141.8,102.7 L140.8,102.4 L140.3,102.2 L139.3,101.9 L138.8,101.8 L137.8,101.4 L137.3,101.2 L136.3,100.8 L135.8,100.6 L135.2,100.3 L134.3,99.9 L133.8,99.6 L133.3,99.3 L132.5,98.8 L131.9,98.3 L131.3,97.8 L130.8,97.4 L130.3,96.8 L129.9,96.3 L129.7,95.8 L129.3,94.8 L129.2,94.3 L129.3,93.3 L129.4,92.8 L129.8,91.9 L130.2,91.3 L130.6,90.8 L131.1,90.3 L131.7,89.8 L132.3,89.4 L132.8,89.0 L133.3,88.7 L134.1,88.3 L134.8,87.9 L135.3,87.7 L136.2,87.3 L136.8,87.1 L137.5,86.8 L138.3,86.5 L139.1,86.3 L139.8,86.1 L140.8,85.8 L141.3,85.7 L142.3,85.5 L143.3,85.3 L143.8,85.2 L144.8,85.1 L145.8,84.9 L146.5,84.8 L147.3,84.7 L148.3,84.6 L149.3,84.5 L150.3,84.4 L150.9,84.3 L151.8,84.2 L152.8,84.1 L153.8,84.0 L154.8,83.9 L155.8,83.9 L156.7,83.8 L157.3,83.7 L158.3,83.7 L159.3,83.6 L160.3,83.5 L161.3,83.4 L162.3,83.3 L163.0,83.3 L163.8,83.2 L164.8,83.1 L165.8,83.1 L166.8,83.0 L167.8,82.9 L168.8,82.8 L169.3,82.8 L170.3,82.6 L171.3,82.5 L172.3,82.3 L172.8,82.3 L173.8,82.0 L174.8,81.8 L175.3,81.6 L176.3,81.3 L176.8,81.1 L177.6,80.8 L178.3,80.5 L178.8,80.2 L179.7,79.8 L180.3,79.4 L180.8,79.1 L181.3,78.8 L182.0,78.3 L182.7,77.8 L183.3,77.3 L183.8,76.9 L184.3,76.5 L184.8,76.1 L185.3,75.6 L185.8,75.2 L186.3,74.8 L187.0,74.3 L187.8,73.8 L188.3,73.5 L188.9,73.3 L189.8,73.0 L190.5,72.8Z" fill="none" stroke="#111" stroke-width="0.85" />
<path d="M190.5,76.3 L191.3,76.1 L192.3,76.0 L193.3,75.9 L194.3,76.0 L195.3,76.2 L195.8,76.4 L196.8,76.8 L197.3,77.1 L197.8,77.4 L198.3,77.8 L198.9,78.3 L199.3,78.8 L199.8,79.4 L200.3,80.2 L200.7,80.8 L200.9,81.3 L201.3,82.1 L201.6,82.8 L201.8,83.4 L202.1,84.3 L202.3,84.8 L202.6,85.8 L202.8,86.5 L203.0,87.3 L203.2,88.3 L203.3,89.1 L203.4,89.8 L203.4,90.8 L203.4,91.8 L203.3,92.5 L203.2,93.3 L202.9,94.3 L202.7,94.8 L202.3,95.7 L202.0,96.3 L201.7,96.8 L201.3,97.3 L200.8,98.0 L200.3,98.6 L199.8,99.1 L199.3,99.6 L198.8,100.1 L198.3,100.5 L197.8,101.0 L197.3,101.4 L196.8,101.9 L196.3,102.3 L195.8,102.8 L195.3,103.3 L194.7,103.8 L194.2,104.3 L193.7,104.8 L193.2,105.3 L192.7,105.8 L192.2,106.3 L191.6,106.8 L191.0,107.3 L190.3,107.7 L189.8,108.0 L189.2,108.3 L188.3,108.6 L187.3,108.8 L186.8,108.8 L185.8,108.8 L185.3,108.8 L184.3,108.6 L183.3,108.3 L182.8,108.2 L181.8,107.8 L181.3,107.6 L180.4,107.3 L179.8,107.1 L179.1,106.8 L178.3,106.5 L177.5,106.3 L176.8,106.1 L175.8,105.9 L175.3,105.7 L174.3,105.5 L173.3,105.4 L172.8,105.3 L171.8,105.1 L170.8,105.0 L169.8,104.9 L169.1,104.8 L168.3,104.7 L167.3,104.6 L166.3,104.5 L165.3,104.4 L164.5,104.3 L163.8,104.2 L162.8,104.1 L161.8,104.0 L160.8,103.9 L160.2,103.8 L159.3,103.7 L158.3,103.6 L157.3,103.4 L156.5,103.3 L155.8,103.2 L154.8,103.0 L153.8,102.9 L153.3,102.8 L152.3,102.6 L151.3,102.4 L150.7,102.3 L149.8,102.1 L148.8,101.9 L148.3,101.8 L147.3,101.6 L146.3,101.3 L145.8,101.2 L144.8,100.9 L144.3,100.7 L143.3,100.4 L142.8,100.2 L141.8,99.9 L141.3,99.7 L140.4,99.3 L139.8,99.0 L139.3,98.7 L138.5,98.3 L137.8,97.9 L137.3,97.5 L136.8,97.1 L136.3,96.6 L135.8,96.0 L135.4,95.3 L135.2,94.8 L135.1,93.8 L135.3,93.0 L135.6,92.3 L136.0,91.8 L136.4,91.3 L136.9,90.8 L137.6,90.3 L138.3,89.8 L138.8,89.5 L139.3,89.3 L140.2,88.8 L140.8,88.6 L141.4,88.3 L142.3,88.0 L142.8,87.8 L143.8,87.5 L144.4,87.3 L145.3,87.0 L146.2,86.8 L146.8,86.7 L147.8,86.4 L148.5,86.3 L149.3,86.1 L150.3,85.9 L151.1,85.8 L151.8,85.7 L152.8,85.5 L153.8,85.4 L154.3,85.3 L155.3,85.1 L156.3,85.0 L157.3,84.9 L157.8,84.8 L158.8,84.7 L159.8,84.5 L160.8,84.4 L161.8,84.3 L162.3,84.2 L163.3,84.1 L164.3,84.0 L165.3,83.9 L166.3,83.8 L166.8,83.7 L167.8,83.6 L168.8,83.5 L169.8,83.4 L170.4,83.3 L171.3,83.2 L172.3,83.0 L173.3,82.8 L173.8,82.7 L174.8,82.4 L175.3,82.3 L176.3,82.0 L176.8,81.8 L177.8,81.4 L178.3,81.2 L179.2,80.8 L179.8,80.5 L180.3,80.3 L181.3,79.9 L181.8,79.6 L182.7,79.3 L183.3,79.1 L184.1,78.8 L184.8,78.6 L185.5,78.3 L186.3,78.0 L186.8,77.8 L187.8,77.4 L188.3,77.1 L189.1,76.8 L189.8,76.5 L190.5,76.3Z" fill="none" stroke="#111" stroke-width="0.85" />
<path d="M188.3,79.8 L188.8,79.7 L189.8,79.6 L190.8,79.5 L191.8,79.5 L192.8,79.5 L193.8,79.7 L194.3,79.8 L195.3,80.2 L195.8,80.5 L196.3,80.8 L197.0,81.3 L197.5,81.8 L198.0,82.3 L198.4,82.8 L198.8,83.4 L199.3,84.2 L199.6,84.8 L199.9,85.3 L200.3,86.3 L200.5,86.8 L200.8,87.7 L200.9,88.3 L201.1,89.3 L201.2,90.3 L201.2,91.3 L201.1,92.3 L200.9,93.3 L200.7,93.8 L200.3,94.8 L200.0,95.3 L199.7,95.8 L199.3,96.4 L198.8,97.1 L198.3,97.6 L197.8,98.1 L197.3,98.6 L196.8,99.0 L196.3,99.4 L195.8,99.8 L195.2,100.3 L194.5,100.8 L193.9,101.3 L193.3,101.7 L192.8,102.0 L192.3,102.4 L191.7,102.8 L190.9,103.3 L190.3,103.6 L189.8,103.9 L189.0,104.3 L188.3,104.6 L187.6,104.8 L186.8,105.0 L185.8,105.1 L184.8,105.2 L183.8,105.2 L182.8,105.1 L181.8,105.0 L180.8,104.8 L180.3,104.7 L179.3,104.6 L178.3,104.4 L177.7,104.3 L176.8,104.2 L175.8,104.0 L174.8,103.9 L174.3,103.8 L173.3,103.7 L172.3,103.6 L171.3,103.4 L170.3,103.3 L169.8,103.3 L168.8,103.1 L167.8,103.0 L166.8,102.9 L165.9,102.8 L165.3,102.7 L164.3,102.6 L163.3,102.5 L162.3,102.3 L161.8,102.2 L160.8,102.1 L159.8,101.9 L158.9,101.8 L158.3,101.7 L157.3,101.5 L156.3,101.3 L155.8,101.3 L154.8,101.1 L153.8,100.9 L153.3,100.8 L152.3,100.5 L151.3,100.3 L150.8,100.2 L149.8,99.9 L149.3,99.8 L148.3,99.5 L147.7,99.3 L146.8,99.0 L146.2,98.8 L145.3,98.4 L144.8,98.2 L144.0,97.8 L143.3,97.4 L142.8,97.1 L142.3,96.8 L141.8,96.3 L141.3,95.8 L140.8,95.0 L140.6,94.3 L140.7,93.3 L140.9,92.8 L141.3,92.2 L141.8,91.7 L142.3,91.2 L142.9,90.8 L143.8,90.3 L144.3,90.0 L144.8,89.8 L145.8,89.4 L146.3,89.2 L147.3,88.8 L147.8,88.6 L148.8,88.3 L149.3,88.2 L150.3,87.9 L150.8,87.8 L151.8,87.5 L152.6,87.3 L153.3,87.1 L154.3,86.9 L154.8,86.8 L155.8,86.6 L156.8,86.3 L157.3,86.2 L158.3,86.0 L159.3,85.8 L159.8,85.7 L160.8,85.5 L161.8,85.3 L162.3,85.2 L163.3,85.0 L164.3,84.9 L164.8,84.8 L165.8,84.6 L166.8,84.5 L167.8,84.3 L168.3,84.3 L169.3,84.1 L170.3,84.0 L171.2,83.8 L171.8,83.7 L172.8,83.5 L173.6,83.3 L174.3,83.1 L175.3,82.8 L175.8,82.7 L176.8,82.4 L177.3,82.2 L178.3,81.8 L178.8,81.6 L179.8,81.3 L180.3,81.1 L181.3,80.8 L181.8,80.7 L182.8,80.5 L183.8,80.3 L184.3,80.3 L185.3,80.1 L186.3,80.0 L187.3,79.9 L188.3,79.8Z" fill="none" stroke="#111" stroke-width="0.85" />
<path d="M180.7,81.8 L181.3,81.7 L182.3,81.5 L183.3,81.4 L184.3,81.4 L185.3,81.3 L186.3,81.3 L187.3,81.3 L188.3,81.4 L189.3,81.5 L190.3,81.6 L191.2,81.8 L191.8,81.9 L192.8,82.2 L193.3,82.4 L194.1,82.8 L194.8,83.2 L195.3,83.5 L195.8,83.9 L196.3,84.3 L196.8,84.8 L197.3,85.4 L197.8,86.1 L198.2,86.8 L198.5,87.3 L198.8,88.1 L199.0,88.8 L199.2,89.8 L199.3,90.8 L199.2,91.8 L199.0,92.8 L198.8,93.5 L198.5,94.3 L198.2,94.8 L197.8,95.4 L197.3,96.1 L196.8,96.7 L196.3,97.2 L195.8,97.7 L195.3,98.1 L194.8,98.5 L194.3,98.9 L193.8,99.3 L193.0,99.8 L192.3,100.3 L191.8,100.6 L191.3,100.9 L190.5,101.3 L189.8,101.6 L189.3,101.8 L188.3,102.2 L187.8,102.4 L186.8,102.7 L186.3,102.8 L185.3,103.0 L184.3,103.1 L183.3,103.1 L182.3,103.2 L181.3,103.1 L180.3,103.1 L179.3,103.0 L178.3,102.9 L177.6,102.8 L176.8,102.7 L175.8,102.6 L174.8,102.5 L173.8,102.4 L173.3,102.3 L172.3,102.2 L171.3,102.1 L170.3,101.9 L169.4,101.8 L168.8,101.7 L167.8,101.6 L166.8,101.4 L165.9,101.3 L165.3,101.2 L164.3,101.0 L163.3,100.9 L162.8,100.8 L161.8,100.6 L160.8,100.4 L160.3,100.3 L159.3,100.1 L158.3,99.9 L157.8,99.8 L156.8,99.5 L155.8,99.3 L155.3,99.2 L154.3,98.9 L153.8,98.8 L152.8,98.5 L152.3,98.3 L151.3,98.0 L150.8,97.8 L149.8,97.3 L149.3,97.1 L148.7,96.8 L147.9,96.3 L147.3,95.8 L146.8,95.3 L146.5,94.8 L146.3,93.8 L146.7,92.8 L147.1,92.3 L147.7,91.8 L148.3,91.4 L148.8,91.1 L149.4,90.8 L150.3,90.4 L150.8,90.1 L151.7,89.8 L152.3,89.6 L153.0,89.3 L153.8,89.0 L154.5,88.8 L155.3,88.5 L156.1,88.3 L156.8,88.1 L157.7,87.8 L158.3,87.6 L159.3,87.3 L159.8,87.1 L160.8,86.9 L161.3,86.7 L162.3,86.4 L162.8,86.3 L163.8,86.0 L164.7,85.8 L165.3,85.7 L166.3,85.4 L167.0,85.3 L167.8,85.1 L168.8,84.9 L169.5,84.8 L170.3,84.6 L171.3,84.4 L171.9,84.3 L172.8,84.1 L173.8,83.8 L174.3,83.7 L175.3,83.4 L175.8,83.3 L176.8,83.0 L177.3,82.8 L178.3,82.5 L178.8,82.3 L179.8,82.0 L180.7,81.8Z" fill="none" stroke="#111" stroke-width="0.85" />
<path d="M181.8,82.3 L182.3,82.2 L183.3,82.2 L184.3,82.1 L185.3,82.1 L186.3,82.2 L187.3,82.3 L187.8,82.3 L188.8,82.5 L189.8,82.7 L190.3,82.9 L191.3,83.2 L191.8,83.4 L192.7,83.8 L193.3,84.1 L193.8,84.4 L194.4,84.8 L195.0,85.3 L195.5,85.8 L195.9,86.3 L196.3,86.8 L196.8,87.5 L197.2,88.3 L197.4,88.8 L197.6,89.8 L197.7,90.8 L197.7,91.8 L197.5,92.8 L197.3,93.4 L196.9,94.3 L196.6,94.8 L196.3,95.3 L195.8,95.9 L195.3,96.5 L194.8,97.0 L194.3,97.4 L193.8,97.8 L193.2,98.3 L192.5,98.8 L191.8,99.2 L191.3,99.5 L190.8,99.8 L189.8,100.3 L189.3,100.5 L188.6,100.8 L187.8,101.1 L187.1,101.3 L186.3,101.5 L185.3,101.7 L184.7,101.8 L183.8,101.9 L182.8,102.0 L181.8,102.0 L180.8,102.0 L179.8,101.9 L178.8,101.8 L178.3,101.8 L177.3,101.7 L176.3,101.6 L175.3,101.5 L174.3,101.4 L173.8,101.3 L172.8,101.2 L171.8,101.0 L170.8,100.9 L170.3,100.8 L169.3,100.6 L168.3,100.5 L167.3,100.3 L166.8,100.2 L165.8,100.0 L164.8,99.8 L164.3,99.7 L163.3,99.5 L162.6,99.3 L161.8,99.1 L160.8,98.8 L160.3,98.7 L159.3,98.4 L158.8,98.3 L157.8,97.9 L157.3,97.8 L156.3,97.4 L155.8,97.2 L154.9,96.8 L154.3,96.5 L153.8,96.2 L153.2,95.8 L152.6,95.3 L152.2,94.8 L151.9,93.8 L152.3,92.9 L152.8,92.3 L153.3,91.9 L153.8,91.6 L154.3,91.2 L155.1,90.8 L155.8,90.4 L156.3,90.2 L157.1,89.8 L157.8,89.5 L158.3,89.3 L159.3,88.9 L159.8,88.7 L160.7,88.3 L161.3,88.1 L162.0,87.8 L162.8,87.5 L163.4,87.3 L164.3,87.0 L164.9,86.8 L165.8,86.5 L166.5,86.3 L167.3,86.1 L168.3,85.8 L168.8,85.7 L169.8,85.4 L170.3,85.3 L171.3,85.1 L172.3,84.8 L172.8,84.7 L173.8,84.4 L174.3,84.2 L175.3,84.0 L175.8,83.8 L176.8,83.5 L177.4,83.3 L178.3,83.0 L179.2,82.8 L179.8,82.6 L180.8,82.4 L181.8,82.3Z" fill="none" stroke="#111" stroke-width="0.85" />
<path d="M182.5,82.8 L183.3,82.7 L184.3,82.7 L185.3,82.8 L185.8,82.8 L186.8,82.9 L187.8,83.1 L188.8,83.3 L189.3,83.4 L190.3,83.8 L190.8,84.0 L191.6,84.3 L192.3,84.7 L192.8,85.0 L193.3,85.4 L193.8,85.8 L194.4,86.3 L194.8,86.8 L195.3,87.4 L195.8,88.2 L196.1,88.8 L196.3,89.5 L196.5,90.3 L196.5,91.3 L196.4,92.3 L196.3,92.8 L195.9,93.8 L195.6,94.3 L195.3,94.9 L194.8,95.5 L194.3,96.1 L193.8,96.6 L193.3,97.1 L192.8,97.5 L192.3,97.9 L191.7,98.3 L190.8,98.8 L190.3,99.1 L189.8,99.4 L188.8,99.8 L188.3,100.0 L187.4,100.3 L186.8,100.5 L185.8,100.7 L185.3,100.8 L184.3,101.0 L183.3,101.1 L182.3,101.1 L181.3,101.1 L180.3,101.1 L179.3,101.0 L178.3,101.0 L177.3,100.9 L176.8,100.8 L175.8,100.7 L174.8,100.5 L173.8,100.4 L173.2,100.3 L172.3,100.2 L171.3,100.0 L170.3,99.8 L169.8,99.7 L168.8,99.5 L167.8,99.3 L167.3,99.2 L166.3,99.0 L165.7,98.8 L164.8,98.6 L163.9,98.3 L163.3,98.1 L162.4,97.8 L161.8,97.6 L161.1,97.3 L160.3,97.0 L159.8,96.7 L159.0,96.3 L158.3,95.9 L157.8,95.5 L157.3,95.0 L156.9,94.3 L156.9,93.3 L157.3,92.5 L157.8,91.9 L158.3,91.5 L158.8,91.1 L159.3,90.7 L160.0,90.3 L160.8,89.8 L161.3,89.6 L161.8,89.3 L162.8,88.8 L163.3,88.6 L163.9,88.3 L164.8,87.9 L165.3,87.7 L166.3,87.3 L166.8,87.1 L167.8,86.8 L168.3,86.6 L169.3,86.3 L169.8,86.1 L170.8,85.8 L171.3,85.7 L172.3,85.4 L172.8,85.2 L173.8,84.9 L174.3,84.8 L175.3,84.5 L175.8,84.3 L176.8,84.0 L177.4,83.8 L178.3,83.5 L179.3,83.3 L179.8,83.2 L180.8,83.0 L181.8,82.9 L182.5,82.8Z" fill="none" stroke="#111" stroke-width="0.85" />
<path d="M182.3,83.3 L183.3,83.2 L184.3,83.2 L185.3,83.3 L185.8,83.3 L186.8,83.5 L187.8,83.7 L188.3,83.8 L189.3,84.1 L189.8,84.3 L190.8,84.7 L191.3,85.0 L191.8,85.3 L192.5,85.8 L193.1,86.3 L193.6,86.8 L194.1,87.3 L194.5,87.8 L194.8,88.4 L195.2,89.3 L195.4,89.8 L195.5,90.8 L195.5,91.8 L195.3,92.8 L195.1,93.3 L194.8,94.0 L194.3,94.8 L193.9,95.3 L193.5,95.8 L193.0,96.3 L192.5,96.8 L191.8,97.3 L191.3,97.7 L190.8,98.0 L190.3,98.3 L189.4,98.8 L188.8,99.1 L188.2,99.3 L187.3,99.6 L186.7,99.8 L185.8,100.0 L184.8,100.2 L184.0,100.3 L183.3,100.4 L182.3,100.4 L181.3,100.4 L180.3,100.4 L179.3,100.4 L178.7,100.3 L177.8,100.2 L176.8,100.1 L175.8,99.9 L174.9,99.8 L174.3,99.7 L173.3,99.5 L172.3,99.3 L171.8,99.2 L170.8,99.0 L169.8,98.8 L169.3,98.7 L168.3,98.4 L167.8,98.3 L166.8,98.0 L166.2,97.8 L165.3,97.5 L164.8,97.3 L163.8,96.8 L163.3,96.6 L162.7,96.3 L161.9,95.8 L161.3,95.3 L160.9,94.8 L160.6,94.3 L160.4,93.3 L160.8,92.3 L161.1,91.8 L161.6,91.3 L162.2,90.8 L162.8,90.3 L163.3,90.0 L163.8,89.7 L164.4,89.3 L165.3,88.8 L165.8,88.6 L166.4,88.3 L167.3,87.9 L167.8,87.7 L168.7,87.3 L169.3,87.1 L170.0,86.8 L170.8,86.5 L171.4,86.3 L172.3,86.0 L172.8,85.8 L173.8,85.5 L174.3,85.3 L175.3,85.0 L175.8,84.8 L176.8,84.5 L177.3,84.3 L178.3,84.0 L179.2,83.8 L179.8,83.7 L180.8,83.5 L181.8,83.3 L182.3,83.3Z" fill="none" stroke="#111" stroke-width="0.85" />
<path d="M181.6,83.8 L182.3,83.7 L183.3,83.7 L184.3,83.7 L185.3,83.8 L185.8,83.8 L186.8,84.0 L187.8,84.2 L188.3,84.3 L189.3,84.7 L189.8,84.9 L190.6,85.3 L191.3,85.7 L191.8,86.1 L192.3,86.5 L192.8,87.0 L193.3,87.5 L193.8,88.2 L194.1,88.8 L194.3,89.3 L194.6,90.3 L194.7,91.3 L194.6,92.3 L194.3,93.3 L194.1,93.8 L193.8,94.3 L193.3,95.0 L192.8,95.6 L192.3,96.1 L191.8,96.6 L191.3,96.9 L190.8,97.3 L190.0,97.8 L189.3,98.2 L188.8,98.4 L187.9,98.8 L187.3,99.0 L186.3,99.3 L185.8,99.4 L184.8,99.6 L183.8,99.8 L183.3,99.8 L182.3,99.9 L181.3,99.9 L180.3,99.8 L179.8,99.8 L178.8,99.7 L177.8,99.6 L176.8,99.5 L175.8,99.3 L175.3,99.2 L174.3,99.0 L173.3,98.8 L172.8,98.7 L171.8,98.5 L171.2,98.3 L170.3,98.1 L169.4,97.8 L168.8,97.6 L167.9,97.3 L167.3,97.1 L166.7,96.8 L165.8,96.4 L165.3,96.1 L164.8,95.8 L164.2,95.3 L163.7,94.8 L163.3,94.2 L163.1,93.3 L163.3,92.3 L163.6,91.8 L164.0,91.3 L164.5,90.8 L165.1,90.3 L165.7,89.8 L166.3,89.4 L166.8,89.1 L167.4,88.8 L168.3,88.3 L168.8,88.1 L169.4,87.8 L170.3,87.4 L170.8,87.2 L171.8,86.8 L172.3,86.6 L173.0,86.3 L173.8,86.0 L174.3,85.8 L175.3,85.4 L175.8,85.3 L176.8,84.9 L177.3,84.7 L178.3,84.5 L178.9,84.3 L179.8,84.1 L180.8,83.9 L181.6,83.8Z" fill="none" stroke="#111" stroke-width="0.85" />
<path d="M180.8,84.3 L181.8,84.2 L182.8,84.1 L183.8,84.1 L184.8,84.1 L185.8,84.2 L186.3,84.3 L187.3,84.5 L188.2,84.8 L188.8,85.0 L189.5,85.3 L190.3,85.7 L190.8,86.0 L191.3,86.4 L191.8,86.8 L192.3,87.3 L192.8,87.9 L193.3,88.7 L193.6,89.3 L193.8,89.9 L194.0,90.8 L194.0,91.8 L193.8,92.6 L193.6,93.3 L193.3,93.9 L192.8,94.6 L192.3,95.3 L191.8,95.8 L191.3,96.3 L190.8,96.6 L190.3,97.0 L189.8,97.3 L188.9,97.8 L188.3,98.1 L187.8,98.3 L186.8,98.6 L186.3,98.8 L185.3,99.0 L184.3,99.2 L183.3,99.3 L182.8,99.3 L181.8,99.4 L180.8,99.3 L180.1,99.3 L179.3,99.2 L178.3,99.1 L177.3,99.0 L176.3,98.8 L175.8,98.7 L174.8,98.5 L174.0,98.3 L173.3,98.1 L172.3,97.8 L171.8,97.7 L170.8,97.4 L170.3,97.2 L169.3,96.8 L168.8,96.6 L168.1,96.3 L167.3,95.8 L166.8,95.5 L166.3,95.1 L165.8,94.6 L165.3,93.8 L165.2,93.3 L165.3,92.5 L165.6,91.8 L165.9,91.3 L166.4,90.8 L166.9,90.3 L167.6,89.8 L168.3,89.3 L168.8,89.0 L169.3,88.7 L170.0,88.3 L170.8,87.9 L171.3,87.7 L172.0,87.3 L172.8,87.0 L173.3,86.7 L174.3,86.3 L174.8,86.1 L175.6,85.8 L176.3,85.5 L176.9,85.3 L177.8,85.0 L178.5,84.8 L179.3,84.6 L180.3,84.4 L180.8,84.3Z" fill="none" stroke="#111" stroke-width="0.85" />
<path d="M180.0,84.8 L180.8,84.6 L181.8,84.5 L182.8,84.4 L183.8,84.4 L184.8,84.5 L185.8,84.6 L186.8,84.8 L187.3,84.9 L188.3,85.3 L188.8,85.5 L189.5,85.8 L190.3,86.3 L190.8,86.6 L191.3,87.0 L191.8,87.5 L192.3,88.1 L192.7,88.8 L193.0,89.3 L193.3,90.3 L193.4,90.8 L193.3,91.8 L193.3,92.3 L192.9,93.3 L192.7,93.8 L192.3,94.4 L191.8,95.1 L191.3,95.6 L190.8,96.0 L190.3,96.4 L189.8,96.8 L188.9,97.3 L188.3,97.6 L187.8,97.8 L186.8,98.2 L186.3,98.3 L185.3,98.6 L184.3,98.8 L183.8,98.8 L182.8,98.9 L181.8,98.9 L180.8,98.9 L179.8,98.8 L179.3,98.8 L178.3,98.6 L177.3,98.5 L176.4,98.3 L175.8,98.2 L174.8,97.9 L174.3,97.8 L173.3,97.5 L172.7,97.3 L171.8,97.0 L171.3,96.8 L170.3,96.3 L169.8,96.1 L169.3,95.8 L168.5,95.3 L167.9,94.8 L167.5,94.3 L167.2,93.8 L167.0,92.8 L167.2,91.8 L167.6,91.3 L168.0,90.8 L168.5,90.3 L169.1,89.8 L169.8,89.3 L170.3,88.9 L170.8,88.6 L171.4,88.3 L172.3,87.8 L172.8,87.5 L173.3,87.3 L174.3,86.8 L174.8,86.6 L175.4,86.3 L176.3,85.9 L176.8,85.7 L177.8,85.4 L178.3,85.2 L179.3,85.0 L180.0,84.8Z" fill="none" stroke="#111" stroke-width="0.85" />
<path d="M182.3,84.8 L183.3,84.8 L184.3,84.8 L184.8,84.8 L185.8,85.0 L186.8,85.2 L187.3,85.3 L188.3,85.7 L188.8,85.9 L189.6,86.3 L190.3,86.8 L190.8,87.2 L191.3,87.7 L191.8,88.3 L192.1,88.8 L192.4,89.3 L192.7,90.3 L192.8,90.8 L192.8,91.7 L192.7,92.3 L192.4,93.3 L192.1,93.8 L191.8,94.3 L191.3,94.9 L190.8,95.5 L190.3,95.9 L189.8,96.3 L189.0,96.8 L188.3,97.2 L187.8,97.4 L186.8,97.8 L186.3,97.9 L185.3,98.2 L184.7,98.3 L183.8,98.4 L182.8,98.5 L181.8,98.5 L180.8,98.5 L179.8,98.4 L179.0,98.3 L178.3,98.2 L177.3,98.0 L176.4,97.8 L175.8,97.6 L174.8,97.4 L174.3,97.2 L173.3,96.8 L172.8,96.6 L172.0,96.3 L171.3,96.0 L170.8,95.7 L170.2,95.3 L169.6,94.8 L169.1,94.3 L168.8,93.8 L168.5,92.8 L168.7,91.8 L169.0,91.3 L169.3,90.8 L169.8,90.3 L170.4,89.8 L171.0,89.3 L171.7,88.8 L172.3,88.4 L172.8,88.1 L173.3,87.8 L174.3,87.3 L174.8,87.0 L175.3,86.8 L176.3,86.3 L176.8,86.1 L177.7,85.8 L178.3,85.6 L179.3,85.3 L179.8,85.2 L180.8,85.0 L181.8,84.8 L182.3,84.8Z" fill="none" stroke="#111" stroke-width="0.85" />
<path d="M180.8,85.3 L181.8,85.2 L182.8,85.1 L183.8,85.1 L184.8,85.1 L185.8,85.3 L186.3,85.4 L187.3,85.7 L187.8,85.9 L188.8,86.3 L189.3,86.6 L189.8,86.9 L190.3,87.3 L190.8,87.8 L191.3,88.4 L191.8,89.2 L192.1,89.8 L192.3,90.8 L192.3,91.3 L192.3,91.8 L192.1,92.8 L191.8,93.4 L191.3,94.2 L190.8,94.8 L190.4,95.3 L189.8,95.8 L189.3,96.1 L188.8,96.5 L188.2,96.8 L187.3,97.2 L186.8,97.4 L185.8,97.7 L185.3,97.8 L184.3,98.0 L183.3,98.1 L182.3,98.2 L181.3,98.1 L180.3,98.1 L179.3,98.0 L178.4,97.8 L177.8,97.7 L176.8,97.4 L176.3,97.3 L175.3,97.0 L174.8,96.8 L173.8,96.4 L173.3,96.2 L172.5,95.8 L171.8,95.4 L171.3,95.0 L170.8,94.6 L170.3,94.0 L169.9,93.3 L169.8,92.3 L170.2,91.3 L170.5,90.8 L170.9,90.3 L171.4,89.8 L172.0,89.3 L172.7,88.8 L173.3,88.4 L173.8,88.1 L174.3,87.8 L175.2,87.3 L175.8,87.0 L176.3,86.7 L177.3,86.3 L177.8,86.1 L178.7,85.8 L179.3,85.6 L180.3,85.4 L180.8,85.3Z" fill="none" stroke="#111" stroke-width="0.85" />
<path d="M179.9,85.8 L180.8,85.6 L181.8,85.5 L182.8,85.4 L183.8,85.4 L184.8,85.4 L185.8,85.6 L186.6,85.8 L187.3,86.0 L188.0,86.3 L188.8,86.7 L189.3,87.0 L189.8,87.4 L190.3,87.9 L190.8,88.4 L191.3,89.2 L191.6,89.8 L191.8,90.7 L191.8,91.3 L191.8,91.9 L191.6,92.8 L191.3,93.4 L190.8,94.2 L190.3,94.8 L189.8,95.3 L189.3,95.7 L188.8,96.0 L188.3,96.3 L187.3,96.8 L186.8,97.0 L185.9,97.3 L185.3,97.5 L184.3,97.6 L183.3,97.8 L182.3,97.8 L182.0,97.8 L181.3,97.8 L180.3,97.7 L179.3,97.6 L178.3,97.4 L177.8,97.3 L176.8,97.0 L176.2,96.8 L175.3,96.5 L174.8,96.3 L173.8,95.8 L173.3,95.5 L172.8,95.2 L172.3,94.8 L171.7,94.3 L171.3,93.7 L171.0,92.8 L171.0,91.8 L171.3,91.2 L171.8,90.5 L172.3,89.9 L172.8,89.4 L173.3,89.0 L173.8,88.6 L174.3,88.3 L175.1,87.8 L175.8,87.4 L176.3,87.1 L177.0,86.8 L177.8,86.5 L178.3,86.3 L179.3,86.0 L179.9,85.8Z" fill="none" stroke="#111" stroke-width="0.85" />
<path d="M181.4,85.8 L182.3,85.7 L183.3,85.6 L184.3,85.7 L185.2,85.8 L185.8,85.9 L186.8,86.2 L187.3,86.4 L188.3,86.8 L188.8,87.1 L189.3,87.5 L189.8,87.9 L190.3,88.4 L190.8,89.2 L191.1,89.8 L191.3,90.5 L191.4,91.3 L191.3,92.1 L191.1,92.8 L190.8,93.5 L190.3,94.2 L189.8,94.8 L189.3,95.2 L188.8,95.6 L188.3,95.9 L187.6,96.3 L186.8,96.7 L186.3,96.8 L185.3,97.1 L184.4,97.3 L183.8,97.4 L182.8,97.5 L181.8,97.5 L180.8,97.4 L179.9,97.3 L179.3,97.2 L178.3,97.0 L177.6,96.8 L176.8,96.6 L176.1,96.3 L175.3,95.9 L174.8,95.7 L174.1,95.3 L173.4,94.8 L172.8,94.3 L172.4,93.8 L172.1,93.3 L171.9,92.3 L172.2,91.3 L172.4,90.8 L172.8,90.3 L173.3,89.7 L173.8,89.3 L174.4,88.8 L175.0,88.3 L175.8,87.8 L176.3,87.5 L176.8,87.3 L177.8,86.8 L178.3,86.6 L179.2,86.3 L179.8,86.1 L180.8,85.9 L181.4,85.8Z" fill="none" stroke="#111" stroke-width="0.85" />
<path d="M180.3,86.3 L180.8,86.2 L181.8,86.0 L182.8,85.9 L183.8,85.9 L184.8,86.0 L185.8,86.2 L186.3,86.3 L187.3,86.7 L187.8,86.9 L188.5,87.3 L189.2,87.8 L189.7,88.3 L190.1,88.8 L190.4,89.3 L190.8,90.2 L190.9,90.8 L190.9,91.8 L190.8,92.4 L190.4,93.3 L190.1,93.8 L189.7,94.3 L189.2,94.8 L188.6,95.3 L187.8,95.8 L187.3,96.1 L186.8,96.3 L185.8,96.7 L185.3,96.8 L184.3,97.0 L183.3,97.1 L182.3,97.2 L181.3,97.1 L180.3,97.0 L179.3,96.9 L178.8,96.7 L177.8,96.5 L177.3,96.3 L176.3,95.9 L175.8,95.7 L175.1,95.3 L174.4,94.8 L173.8,94.3 L173.4,93.8 L173.1,93.3 L172.8,92.3 L173.0,91.3 L173.3,90.7 L173.8,90.0 L174.3,89.5 L174.8,89.0 L175.3,88.6 L175.8,88.3 L176.6,87.8 L177.3,87.4 L177.8,87.2 L178.7,86.8 L179.3,86.6 L180.3,86.3Z" fill="none" stroke="#111" stroke-width="0.85" />
<path d="M181.7,86.3 L182.3,86.2 L183.3,86.2 L184.3,86.2 L184.8,86.3 L185.8,86.5 L186.8,86.8 L187.3,87.0 L187.9,87.3 L188.6,87.8 L189.2,88.3 L189.6,88.8 L190.0,89.3 L190.3,90.0 L190.5,90.8 L190.5,91.8 L190.3,92.7 L190.0,93.3 L189.7,93.8 L189.3,94.3 L188.7,94.8 L188.0,95.3 L187.3,95.7 L186.8,96.0 L185.9,96.3 L185.3,96.5 L184.3,96.7 L183.4,96.8 L182.8,96.8 L181.8,96.8 L181.2,96.8 L180.3,96.7 L179.3,96.5 L178.5,96.3 L177.8,96.1 L177.1,95.8 L176.3,95.4 L175.8,95.1 L175.3,94.8 L174.7,94.3 L174.2,93.8 L173.8,93.1 L173.6,92.3 L173.7,91.3 L173.9,90.8 L174.3,90.2 L174.8,89.7 L175.3,89.2 L175.8,88.7 L176.4,88.3 L177.2,87.8 L177.8,87.5 L178.3,87.3 L179.3,86.9 L179.8,86.7 L180.8,86.5 L181.7,86.3Z" fill="none" stroke="#111" stroke-width="0.85" />
<path d="M180.6,86.8 L181.3,86.6 L182.3,86.5 L183.3,86.5 L184.3,86.5 L185.3,86.7 L185.9,86.8 L186.8,87.1 L187.3,87.4 L188.1,87.8 L188.7,88.3 L189.2,88.8 L189.6,89.3 L189.8,89.8 L190.1,90.8 L190.1,91.8 L189.8,92.8 L189.6,93.3 L189.2,93.8 L188.8,94.3 L188.2,94.8 L187.4,95.3 L186.8,95.6 L186.3,95.9 L185.3,96.2 L184.8,96.3 L183.8,96.5 L182.8,96.5 L181.8,96.5 L180.8,96.4 L179.9,96.3 L179.3,96.2 L178.3,95.9 L177.8,95.7 L177.0,95.3 L176.3,94.9 L175.8,94.6 L175.3,94.1 L174.8,93.6 L174.4,92.8 L174.3,92.3 L174.3,91.8 L174.6,90.8 L174.9,90.3 L175.3,89.8 L175.8,89.3 L176.4,88.8 L177.1,88.3 L177.8,87.9 L178.3,87.6 L179.0,87.3 L179.8,87.0 L180.6,86.8Z" fill="none" stroke="#111" stroke-width="0.85" />
<path d="M182.0,86.8 L182.8,86.7 L183.8,86.7 L184.5,86.8 L185.3,86.9 L186.3,87.2 L186.8,87.4 L187.5,87.8 L188.2,88.3 L188.7,88.8 L189.1,89.3 L189.4,89.8 L189.7,90.8 L189.7,91.8 L189.4,92.8 L189.1,93.3 L188.8,93.8 L188.3,94.3 L187.7,94.8 L186.8,95.3 L186.3,95.5 L185.6,95.8 L184.8,96.0 L183.8,96.2 L182.8,96.3 L181.8,96.2 L180.8,96.1 L179.8,96.0 L179.2,95.8 L178.3,95.5 L177.8,95.3 L176.9,94.8 L176.3,94.4 L175.8,93.9 L175.3,93.3 L175.1,92.8 L174.9,91.8 L175.2,90.8 L175.5,90.3 L175.9,89.8 L176.4,89.3 L177.0,88.8 L177.7,88.3 L178.3,88.0 L178.8,87.7 L179.8,87.3 L180.3,87.1 L181.3,86.9 L182.0,86.8Z" fill="none" stroke="#111" stroke-width="0.85" />
<path d="M180.8,87.3 L181.3,87.2 L182.3,87.0 L183.3,87.0 L184.3,87.0 L185.3,87.2 L185.8,87.4 L186.8,87.8 L187.3,88.0 L187.8,88.4 L188.3,88.8 L188.8,89.5 L189.2,90.3 L189.3,90.8 L189.3,91.8 L189.2,92.3 L188.8,93.2 L188.3,93.8 L187.8,94.3 L187.3,94.7 L186.8,95.0 L186.1,95.3 L185.3,95.6 L184.4,95.8 L183.8,95.9 L182.8,96.0 L181.8,95.9 L180.8,95.8 L180.3,95.7 L179.3,95.5 L178.8,95.3 L177.8,94.8 L177.3,94.5 L176.8,94.2 L176.3,93.7 L175.8,93.0 L175.6,92.3 L175.6,91.3 L175.8,90.8 L176.3,90.0 L176.8,89.4 L177.3,89.0 L177.8,88.6 L178.3,88.3 L179.3,87.8 L179.8,87.6 L180.8,87.3Z" fill="none" stroke="#111" stroke-width="0.85" />
<path d="M182.2,87.3 L182.8,87.3 L183.8,87.3 L184.3,87.3 L185.3,87.5 L186.2,87.8 L186.8,88.1 L187.3,88.4 L187.8,88.8 L188.3,89.3 L188.8,90.2 L189.0,90.8 L189.0,91.8 L188.8,92.4 L188.3,93.3 L187.9,93.8 L187.3,94.3 L186.8,94.6 L186.3,94.9 L185.3,95.3 L184.8,95.4 L183.8,95.6 L182.8,95.7 L181.8,95.7 L180.8,95.5 L179.8,95.3 L179.3,95.1 L178.5,94.8 L177.8,94.4 L177.3,94.0 L176.8,93.5 L176.3,92.8 L176.1,92.3 L176.2,91.3 L176.3,90.8 L176.8,90.0 L177.3,89.5 L177.8,89.0 L178.3,88.7 L179.0,88.3 L179.8,87.9 L180.3,87.7 L181.3,87.5 L182.2,87.3Z" fill="none" stroke="#111" stroke-width="0.85" />
<path d="M181.0,87.8 L181.8,87.6 L182.8,87.5 L183.8,87.5 L184.8,87.7 L185.3,87.8 L186.3,88.2 L186.8,88.4 L187.3,88.8 L187.8,89.3 L188.3,90.0 L188.6,90.8 L188.6,91.8 L188.3,92.6 L187.9,93.3 L187.4,93.8 L186.8,94.2 L186.3,94.5 L185.8,94.8 L184.8,95.1 L183.9,95.3 L183.3,95.4 L182.3,95.4 L181.3,95.3 L180.8,95.2 L179.8,94.9 L179.3,94.8 L178.4,94.3 L177.8,93.9 L177.3,93.4 L176.9,92.8 L176.7,92.3 L176.7,91.3 L176.9,90.8 L177.3,90.1 L177.8,89.5 L178.3,89.1 L178.8,88.8 L179.6,88.3 L180.3,88.0 L181.0,87.8Z" fill="none" stroke="#111" stroke-width="0.85" />
<path d="M182.7,87.8 L183.3,87.8 L183.8,87.8 L184.8,88.0 L185.8,88.3 L186.3,88.5 L186.8,88.8 L187.4,89.3 L187.8,89.9 L188.2,90.8 L188.2,91.8 L187.8,92.8 L187.4,93.3 L186.9,93.8 L186.3,94.2 L185.8,94.5 L184.9,94.8 L184.3,94.9 L183.3,95.1 L182.3,95.1 L181.3,95.0 L180.4,94.8 L179.8,94.6 L179.1,94.3 L178.4,93.8 L177.8,93.3 L177.5,92.8 L177.3,92.3 L177.2,91.3 L177.4,90.8 L177.8,90.1 L178.3,89.6 L178.8,89.2 L179.3,88.8 L180.3,88.3 L180.8,88.2 L181.8,87.9 L182.7,87.8Z" fill="none" stroke="#111" stroke-width="0.85" />
<path d="M181.3,88.3 L182.3,88.1 L183.3,88.1 L184.3,88.1 L185.0,88.3 L185.8,88.6 L186.3,88.9 L186.9,89.3 L187.3,89.8 L187.8,90.8 L187.8,91.3 L187.8,91.8 L187.3,92.8 L186.9,93.3 L186.3,93.8 L185.8,94.1 L185.3,94.3 L184.3,94.6 L183.3,94.8 L182.8,94.8 L182.3,94.8 L181.3,94.7 L180.3,94.4 L179.8,94.2 L179.0,93.8 L178.4,93.3 L178.0,92.8 L177.8,92.3 L177.7,91.3 L177.9,90.8 L178.3,90.2 L178.8,89.6 L179.3,89.2 L180.0,88.8 L180.8,88.5 L181.3,88.3Z" fill="none" stroke="#111" stroke-width="0.85" />
<path d="M180.8,88.8 L181.3,88.6 L182.3,88.4 L183.3,88.3 L184.3,88.4 L185.3,88.7 L185.8,89.0 L186.3,89.3 L186.8,89.8 L187.3,90.6 L187.4,91.3 L187.3,92.0 L186.9,92.8 L186.4,93.3 L185.8,93.7 L185.3,94.0 L184.4,94.3 L183.8,94.4 L182.8,94.5 L181.8,94.4 L181.1,94.3 L180.3,94.0 L179.8,93.8 L179.1,93.3 L178.6,92.8 L178.3,92.1 L178.3,91.3 L178.4,90.8 L178.8,90.2 L179.3,89.7 L179.8,89.3 L180.8,88.8Z" fill="none" stroke="#111" stroke-width="0.85" />
<path d="M181.9,88.8 L182.8,88.7 L183.8,88.7 L184.5,88.8 L185.3,89.1 L185.8,89.4 L186.3,89.8 L186.8,90.5 L187.0,91.3 L186.8,92.1 L186.4,92.8 L185.8,93.3 L185.3,93.6 L184.8,93.8 L183.8,94.1 L182.8,94.2 L181.8,94.1 L180.8,93.8 L180.3,93.6 L179.8,93.3 L179.2,92.8 L178.8,91.9 L178.8,91.3 L179.0,90.8 L179.3,90.3 L179.8,89.8 L180.5,89.3 L181.3,89.0 L181.9,88.8Z" fill="none" stroke="#111" stroke-width="0.85" />
<path d="M181.4,89.3 L182.3,89.1 L183.3,89.0 L184.3,89.1 L184.9,89.3 L185.7,89.8 L186.2,90.3 L186.4,90.8 L186.4,91.8 L186.2,92.3 L185.8,92.8 L185.1,93.3 L184.3,93.6 L183.5,93.8 L182.8,93.8 L182.2,93.8 L181.3,93.6 L180.6,93.3 L179.9,92.8 L179.5,92.3 L179.3,91.3 L179.8,90.4 L180.3,89.9 L180.8,89.6 L181.4,89.3Z" fill="none" stroke="#111" stroke-width="0.85" />
<path d="M181.2,89.8 L181.8,89.6 L182.8,89.4 L183.8,89.4 L184.8,89.7 L185.3,90.0 L185.8,90.6 L186.0,91.3 L185.8,92.0 L185.3,92.7 L184.8,93.0 L184.1,93.3 L183.3,93.4 L182.3,93.4 L181.7,93.3 L180.8,92.9 L180.3,92.4 L180.0,91.8 L180.1,90.8 L180.5,90.3 L181.2,89.8Z" fill="none" stroke="#111" stroke-width="0.85" />
<path d="M182.7,89.8 L183.3,89.8 L183.8,89.8 L184.8,90.3 L185.3,90.8 L185.4,91.3 L185.3,91.8 L184.8,92.4 L184.1,92.8 L183.3,93.0 L182.3,93.0 L181.7,92.8 L181.0,92.3 L180.7,91.8 L180.8,90.9 L181.3,90.3 L181.8,90.1 L182.7,89.8Z" fill="none" stroke="#111" stroke-width="0.85" />
<path d="M190.9,108.0h0.01M148.2,127.8h0.01M175.0,107.7h0.01M175.8,104.7h0.01M175.0,128.5h0.01M192.8,121.4h0.01M160.8,113.2h0.01M155.9,123.3h0.01M175.2,123.5h0.01M164.5,109.6h0.01M190.0,128.6h0.01M192.2,124.2h0.01M190.4,122.5h0.01M159.0,116.9h0.01M165.8,104.7h0.01M148.5,111.0h0.01M160.7,121.3h0.01M197.7,115.2h0.01M196.7,128.7h0.01M197.6,113.1h0.01M158.7,109.7h0.01M157.4,109.1h0.01M180.1,126.5h0.01M191.5,116.0h0.01M181.6,124.0h0.01M151.5,120.5h0.01M195.2,123.6h0.01M186.8,116.0h0.01M156.5,123.7h0.01M164.6,124.0h0.01M213.0,128.6h0.01M173.7,130.8h0.01M196.0,127.7h0.01M154.8,127.6h0.01M208.4,130.2h0.01M156.1,130.3h0.01M213.6,129.6h0.01M170.2,129.2h0.01M155.0,127.1h0.01M213.0,129.6h0.01M182.3,130.7h0.01M175.9,130.5h0.01M203.0,127.8h0.01M163.4,128.2h0.01M162.6,129.3h0.01M163.9,128.7h0.01M155.0,130.6h0.01M170.4,128.8h0.01M186.3,130.6h0.01M175.0,130.7h0.01M180.6,129.1h0.01M182.1,127.1h0.01M176.4,127.7h0.01M146.3,130.2h0.01M157.9,128.9h0.01M206.8,82.3h0.01M194.8,80.7h0.01M201.7,91.4h0.01M188.2,82.4h0.01M192.5,71.1h0.01M208.2,80.3h0.01M201.9,90.4h0.01M212.4,77.7h0.01M203.4,80.2h0.01M200.4,87.7h0.01M198.6,81.3h0.01M199.3,97.7h0.01M206.0,95.1h0.01M213.3,70.4h0.01" fill="none" stroke="#555" stroke-width="1.1" stroke-linecap="round"/>
</g>
<line x1="193.70" y1="23.80" x2="193.70" y2="130.80" stroke="#333" stroke-width="0.9" stroke-linecap="butt"/>
<line x1="143.30" y1="84.00" x2="251.70" y2="84.00" stroke="#333" stroke-width="0.9" stroke-linecap="butt"/>
<rect x="143.30" y="23.80" width="108.40" height="107.00" fill="none" stroke="#222" stroke-width="1.1"/>
<path d="M141.8,29.8H143.3M141.8,36.9H143.3M141.8,43.9H143.3M141.8,51.0H143.3M141.8,58.1H143.3M141.8,65.2H143.3M141.8,72.2H143.3M141.8,79.3H143.3M141.8,86.4H143.3M141.8,93.4H143.3M141.8,100.5H143.3M141.8,107.6H143.3M141.8,114.7H143.3M141.8,121.7H143.3M147.3,130.8V132.3M154.5,130.8V132.3M161.6,130.8V132.3M168.8,130.8V132.3M176.0,130.8V132.3M183.2,130.8V132.3M190.3,130.8V132.3M197.5,130.8V132.3M204.7,130.8V132.3M211.8,130.8V132.3M219.0,130.8V132.3M226.2,130.8V132.3M233.4,130.8V132.3M240.5,130.8V132.3" fill="none" stroke="#666" stroke-width="0.5" />
<text x="146.50" y="39.60" font-size="13.2" text-anchor="start" fill="#000" >4.5</text>
<text x="247.10" y="39.60" font-size="13.2" text-anchor="end" fill="#000" >2.9</text>
<text x="146.50" y="126.30" font-size="13.2" text-anchor="start" fill="#000" >87.2</text>
<text x="247.10" y="126.30" font-size="13.2" text-anchor="end" fill="#000" >4.8</text>
<text x="1.00" y="12.20" font-size="15" text-anchor="start" fill="#000" >A</text>
<text x="80.00" y="15.70" font-size="13" text-anchor="middle" fill="#000" >EAE + PBS</text>
<text x="197.50" y="15.70" font-size="13" text-anchor="middle" fill="#000" >EAE+FHES</text>
<text x="15.60" y="62.50" font-size="14.8" text-anchor="start" transform="rotate(-90 15.60 62.50)" fill="#000" >IL-13</text>
<text x="202.00" y="156.50" font-size="14.2" text-anchor="start" fill="#000" >IL-4</text>
<line x1="8.70" y1="149.30" x2="8.70" y2="90.00" stroke="#000" stroke-width="1.3" stroke-linecap="butt"/>
<line x1="8.05" y1="148.70" x2="172.00" y2="148.70" stroke="#000" stroke-width="1.3" stroke-linecap="butt"/>
<polygon points="8.7,76.3 4.9,91 12.5,91" fill="#000"/>
<polygon points="181,148.7 171,144.5 171,152.9" fill="#000"/>
<text x="276.50" y="12.20" font-size="15" text-anchor="start" fill="#000" >B</text>
<line x1="323.30" y1="30.30" x2="323.30" y2="148.60" stroke="#000" stroke-width="1.1" stroke-linecap="butt"/>
<line x1="322.80" y1="148.10" x2="400.00" y2="148.10" stroke="#000" stroke-width="1.1" stroke-linecap="butt"/>
<line x1="318.50" y1="148.10" x2="323.30" y2="148.10" stroke="#000" stroke-width="1.1" stroke-linecap="butt"/>
<text x="318.00" y="151.20" font-size="8.7" text-anchor="end" font-weight="bold" fill="#000" >0</text>
<line x1="318.50" y1="109.00" x2="323.30" y2="109.00" stroke="#000" stroke-width="1.1" stroke-linecap="butt"/>
<text x="318.00" y="112.10" font-size="8.7" text-anchor="end" font-weight="bold" fill="#000" >10000</text>
<line x1="318.50" y1="69.90" x2="323.30" y2="69.90" stroke="#000" stroke-width="1.1" stroke-linecap="butt"/>
<text x="318.00" y="73.00" font-size="8.7" text-anchor="end" font-weight="bold" fill="#000" >20000</text>
<line x1="318.50" y1="30.80" x2="323.30" y2="30.80" stroke="#000" stroke-width="1.1" stroke-linecap="butt"/>
<text x="318.00" y="33.90" font-size="8.7" text-anchor="end" font-weight="bold" fill="#000" >30000</text>
<line x1="342.80" y1="148.10" x2="342.80" y2="152.60" stroke="#000" stroke-width="1.1" stroke-linecap="butt"/>
<line x1="381.60" y1="148.10" x2="381.60" y2="152.60" stroke="#000" stroke-width="1.1" stroke-linecap="butt"/>
<text x="332.80" y="22.30" font-size="11.3" text-anchor="start" fill="#000" xml:space="preserve">CD4<tspan dy="-4.2" font-size="7.2">+</tspan><tspan dy="4.2" font-size="11.3">&#8203;</tspan> IL-4<tspan dy="-4.2" font-size="7.2">+</tspan><tspan dy="4.2" font-size="11.3">&#8203;</tspan></text>
<line x1="343.00" y1="141.62" x2="343.00" y2="137.71" stroke="#777" stroke-width="0.9" stroke-linecap="butt"/>
<line x1="336.70" y1="141.62" x2="349.30" y2="141.62" stroke="#777" stroke-width="0.9" stroke-linecap="butt"/>
<line x1="336.70" y1="137.71" x2="349.30" y2="137.71" stroke="#777" stroke-width="0.9" stroke-linecap="butt"/>
<line x1="329.80" y1="139.67" x2="356.20" y2="139.67" stroke="#111" stroke-width="1.5" stroke-linecap="butt"/>
<line x1="381.60" y1="104.42" x2="381.60" y2="83.27" stroke="#777" stroke-width="0.9" stroke-linecap="butt"/>
<line x1="375.30" y1="104.42" x2="387.90" y2="104.42" stroke="#777" stroke-width="0.9" stroke-linecap="butt"/>
<line x1="375.30" y1="83.27" x2="387.90" y2="83.27" stroke="#777" stroke-width="0.9" stroke-linecap="butt"/>
<line x1="368.40" y1="93.84" x2="394.80" y2="93.84" stroke="#111" stroke-width="1.5" stroke-linecap="butt"/>
<rect x="340.05" y="124.05" width="5.10" height="5.10" fill="#000" stroke="none" stroke-width="1"/>
<rect x="332.85" y="132.05" width="5.10" height="5.10" fill="#000" stroke="none" stroke-width="1"/>
<rect x="340.05" y="134.85" width="5.10" height="5.10" fill="#000" stroke="none" stroke-width="1"/>
<rect x="329.25" y="136.65" width="5.10" height="5.10" fill="#000" stroke="none" stroke-width="1"/>
<rect x="350.45" y="138.25" width="5.10" height="5.10" fill="#000" stroke="none" stroke-width="1"/>
<rect x="336.25" y="139.07" width="5.10" height="5.10" fill="#000" stroke="none" stroke-width="1"/>
<rect x="344.75" y="137.51" width="5.10" height="5.10" fill="#000" stroke="none" stroke-width="1"/>
<rect x="332.85" y="142.85" width="5.10" height="5.10" fill="#000" stroke="none" stroke-width="1"/>
<rect x="340.05" y="143.45" width="5.10" height="5.10" fill="#000" stroke="none" stroke-width="1"/>
<rect x="346.65" y="142.85" width="5.10" height="5.10" fill="#000" stroke="none" stroke-width="1"/>
<rect x="343.25" y="141.45" width="5.10" height="5.10" fill="#000" stroke="none" stroke-width="1"/>
<polygon points="375.00,47.27 372.00,52.67 378.00,52.67" fill="#000"/>
<polygon points="382.50,48.44 379.50,53.84 385.50,53.84" fill="#000"/>
<polygon points="382.00,64.50 379.00,69.90 385.00,69.90" fill="#000"/>
<polygon points="382.00,74.29 379.00,79.69 385.00,79.69" fill="#000"/>
<polygon points="389.00,85.65 386.00,91.05 392.00,91.05" fill="#000"/>
<polygon points="381.50,85.65 378.50,91.05 384.50,91.05" fill="#000"/>
<polygon points="381.80,111.89 378.80,117.29 384.80,117.29" fill="#000"/>
<polygon points="374.80,131.47 371.80,136.88 377.80,136.88" fill="#000"/>
<polygon points="381.80,132.65 378.80,138.05 384.80,138.05" fill="#000"/>
<polygon points="388.80,132.65 385.80,138.05 391.80,138.05" fill="#000"/>
<line x1="336.20" y1="41.60" x2="382.60" y2="41.60" stroke="#999" stroke-width="1.2" stroke-linecap="butt"/>
<text x="358.20" y="34.80" font-size="8" text-anchor="middle" font-weight="bold" fill="#000" >*</text>
<text x="343.00" y="166.60" font-size="10.7" text-anchor="middle" fill="#000" >EAE</text>
<text x="343.00" y="178.60" font-size="10.7" text-anchor="middle" fill="#000" >PBS</text>
<text x="381.00" y="166.60" font-size="10.7" text-anchor="middle" fill="#000" >EAE</text>
<text x="381.00" y="178.60" font-size="10.7" text-anchor="middle" fill="#000" >FHES</text>
<text x="285.30" y="88.80" font-size="12.4" text-anchor="middle" transform="rotate(-90 285.30 88.80)" fill="#000" >T cells in the brain</text>
<line x1="435.80" y1="30.50" x2="435.80" y2="148.50" stroke="#000" stroke-width="1.1" stroke-linecap="butt"/>
<line x1="435.30" y1="148.00" x2="514.00" y2="148.00" stroke="#000" stroke-width="1.1" stroke-linecap="butt"/>
<line x1="431.00" y1="148.00" x2="435.80" y2="148.00" stroke="#000" stroke-width="1.1" stroke-linecap="butt"/>
<text x="430.50" y="151.10" font-size="8.7" text-anchor="end" font-weight="bold" fill="#000" >0</text>
<line x1="431.00" y1="118.75" x2="435.80" y2="118.75" stroke="#000" stroke-width="1.1" stroke-linecap="butt"/>
<text x="430.50" y="121.85" font-size="8.7" text-anchor="end" font-weight="bold" fill="#000" >10000</text>
<line x1="431.00" y1="89.50" x2="435.80" y2="89.50" stroke="#000" stroke-width="1.1" stroke-linecap="butt"/>
<text x="430.50" y="92.60" font-size="8.7" text-anchor="end" font-weight="bold" fill="#000" >20000</text>
<line x1="431.00" y1="60.25" x2="435.80" y2="60.25" stroke="#000" stroke-width="1.1" stroke-linecap="butt"/>
<text x="430.50" y="63.35" font-size="8.7" text-anchor="end" font-weight="bold" fill="#000" >30000</text>
<line x1="431.00" y1="31.00" x2="435.80" y2="31.00" stroke="#000" stroke-width="1.1" stroke-linecap="butt"/>
<text x="430.50" y="34.10" font-size="8.7" text-anchor="end" font-weight="bold" fill="#000" >40000</text>
<line x1="454.50" y1="148.00" x2="454.50" y2="152.50" stroke="#000" stroke-width="1.1" stroke-linecap="butt"/>
<line x1="493.00" y1="148.00" x2="493.00" y2="152.50" stroke="#000" stroke-width="1.1" stroke-linecap="butt"/>
<text x="445.30" y="22.50" font-size="11.3" text-anchor="start" fill="#000" xml:space="preserve">CD4<tspan dy="-4.2" font-size="7.2">+</tspan><tspan dy="4.2" font-size="11.3">&#8203;</tspan> IL-13<tspan dy="-4.2" font-size="7.2">+</tspan><tspan dy="4.2" font-size="11.3">&#8203;</tspan></text>
<line x1="454.50" y1="136.30" x2="454.50" y2="124.60" stroke="#777" stroke-width="0.9" stroke-linecap="butt"/>
<line x1="448.20" y1="136.30" x2="460.80" y2="136.30" stroke="#777" stroke-width="0.9" stroke-linecap="butt"/>
<line x1="448.20" y1="124.60" x2="460.80" y2="124.60" stroke="#777" stroke-width="0.9" stroke-linecap="butt"/>
<line x1="441.30" y1="130.45" x2="467.70" y2="130.45" stroke="#111" stroke-width="1.5" stroke-linecap="butt"/>
<line x1="493.00" y1="107.93" x2="493.00" y2="83.65" stroke="#777" stroke-width="0.9" stroke-linecap="butt"/>
<line x1="486.70" y1="107.93" x2="499.30" y2="107.93" stroke="#777" stroke-width="0.9" stroke-linecap="butt"/>
<line x1="486.70" y1="83.65" x2="499.30" y2="83.65" stroke="#777" stroke-width="0.9" stroke-linecap="butt"/>
<line x1="479.80" y1="95.94" x2="506.20" y2="95.94" stroke="#111" stroke-width="1.5" stroke-linecap="butt"/>
<rect x="444.95" y="90.46" width="5.10" height="5.10" fill="#000" stroke="none" stroke-width="1"/>
<rect x="451.95" y="94.26" width="5.10" height="5.10" fill="#000" stroke="none" stroke-width="1"/>
<rect x="451.95" y="117.66" width="5.10" height="5.10" fill="#000" stroke="none" stroke-width="1"/>
<rect x="444.95" y="131.70" width="5.10" height="5.10" fill="#000" stroke="none" stroke-width="1"/>
<rect x="451.95" y="132.29" width="5.10" height="5.10" fill="#000" stroke="none" stroke-width="1"/>
<rect x="458.95" y="129.95" width="5.10" height="5.10" fill="#000" stroke="none" stroke-width="1"/>
<rect x="444.45" y="141.94" width="5.10" height="5.10" fill="#000" stroke="none" stroke-width="1"/>
<rect x="448.45" y="141.35" width="5.10" height="5.10" fill="#000" stroke="none" stroke-width="1"/>
<rect x="452.95" y="142.82" width="5.10" height="5.10" fill="#000" stroke="none" stroke-width="1"/>
<rect x="456.45" y="141.65" width="5.10" height="5.10" fill="#000" stroke="none" stroke-width="1"/>
<rect x="459.45" y="143.11" width="5.10" height="5.10" fill="#000" stroke="none" stroke-width="1"/>
<polygon points="486.50,35.21 483.50,40.61 489.50,40.61" fill="#000"/>
<polygon points="493.50,38.14 490.50,43.54 496.50,43.54" fill="#000"/>
<polygon points="500.50,63.00 497.50,68.40 503.50,68.40" fill="#000"/>
<polygon points="493.50,69.44 490.50,74.83 496.50,74.83" fill="#000"/>
<polygon points="493.50,99.56 490.50,104.96 496.50,104.96" fill="#000"/>
<polygon points="493.50,106.29 490.50,111.69 496.50,111.69" fill="#000"/>
<polygon points="486.50,121.50 483.50,126.90 489.50,126.90" fill="#000"/>
<polygon points="493.50,124.43 490.50,129.83 496.50,129.83" fill="#000"/>
<polygon points="500.50,132.62 497.50,138.02 503.50,138.02" fill="#000"/>
<polygon points="493.50,137.59 490.50,142.99 496.50,142.99" fill="#000"/>
<line x1="454.00" y1="34.50" x2="492.50" y2="34.50" stroke="#999" stroke-width="1.2" stroke-linecap="butt"/>
<text x="472.50" y="31.30" font-size="8" text-anchor="middle" font-weight="bold" fill="#000" >*</text>
<text x="454.50" y="166.60" font-size="10.7" text-anchor="middle" fill="#000" >EAE</text>
<text x="454.50" y="178.60" font-size="10.7" text-anchor="middle" fill="#000" >PBS</text>
<text x="493.00" y="166.60" font-size="10.7" text-anchor="middle" fill="#000" >EAE</text>
<text x="493.00" y="178.60" font-size="10.7" text-anchor="middle" fill="#000" >FHES</text>
<text x="1.00" y="205.60" font-size="15" text-anchor="start" fill="#000" >C</text>
<line x1="39.30" y1="209.70" x2="39.30" y2="328.10" stroke="#000" stroke-width="1.1" stroke-linecap="butt"/>
<line x1="35.40" y1="327.60" x2="39.30" y2="327.60" stroke="#000" stroke-width="1.1" stroke-linecap="butt"/>
<text x="34.60" y="330.70" font-size="8.6" text-anchor="end" font-weight="bold" fill="#000" >0</text>
<line x1="35.40" y1="298.25" x2="39.30" y2="298.25" stroke="#000" stroke-width="1.1" stroke-linecap="butt"/>
<text x="34.60" y="301.35" font-size="8.6" text-anchor="end" font-weight="bold" fill="#000" >100</text>
<line x1="35.40" y1="268.90" x2="39.30" y2="268.90" stroke="#000" stroke-width="1.1" stroke-linecap="butt"/>
<text x="34.60" y="272.00" font-size="8.6" text-anchor="end" font-weight="bold" fill="#000" >200</text>
<line x1="35.40" y1="239.55" x2="39.30" y2="239.55" stroke="#000" stroke-width="1.1" stroke-linecap="butt"/>
<text x="34.60" y="242.65" font-size="8.6" text-anchor="end" font-weight="bold" fill="#000" >300</text>
<line x1="35.40" y1="210.20" x2="39.30" y2="210.20" stroke="#000" stroke-width="1.1" stroke-linecap="butt"/>
<text x="34.60" y="213.30" font-size="8.6" text-anchor="end" font-weight="bold" fill="#000" >400</text>
<line x1="38.80" y1="327.60" x2="117.00" y2="327.60" stroke="#000" stroke-width="1.1" stroke-linecap="butt"/>
<line x1="58.40" y1="327.60" x2="58.40" y2="331.80" stroke="#000" stroke-width="1.1" stroke-linecap="butt"/>
<line x1="97.50" y1="327.60" x2="97.50" y2="331.80" stroke="#000" stroke-width="1.1" stroke-linecap="butt"/>
<line x1="58.40" y1="254.23" x2="58.40" y2="232.51" stroke="#000" stroke-width="0.9" stroke-linecap="butt"/>
<line x1="51.90" y1="232.51" x2="64.90" y2="232.51" stroke="#000" stroke-width="0.9" stroke-linecap="butt"/>
<rect x="45.20" y="254.23" width="26.40" height="73.38" fill="#000" stroke="none" stroke-width="1"/>
<line x1="97.50" y1="321.73" x2="97.50" y2="319.38" stroke="#000" stroke-width="0.9" stroke-linecap="butt"/>
<line x1="91.00" y1="319.38" x2="104.00" y2="319.38" stroke="#000" stroke-width="0.9" stroke-linecap="butt"/>
<rect x="84.30" y="321.73" width="26.40" height="5.87" fill="#000" stroke="none" stroke-width="1"/>
<text x="98.80" y="313.00" font-size="9" text-anchor="middle" font-weight="bold" fill="#000" >**</text>
<text x="14.50" y="268.90" font-size="11.2" text-anchor="middle" transform="rotate(-90 14.50 268.90)" fill="#000" >IL-4 (pg/ml)</text>
<line x1="39.30" y1="342.70" x2="39.30" y2="460.60" stroke="#000" stroke-width="1.1" stroke-linecap="butt"/>
<line x1="35.40" y1="460.10" x2="39.30" y2="460.10" stroke="#000" stroke-width="1.1" stroke-linecap="butt"/>
<text x="34.60" y="463.20" font-size="8.6" text-anchor="end" font-weight="bold" fill="#000" >0</text>
<line x1="35.40" y1="436.72" x2="39.30" y2="436.72" stroke="#000" stroke-width="1.1" stroke-linecap="butt"/>
<text x="34.60" y="439.82" font-size="8.6" text-anchor="end" font-weight="bold" fill="#000" >50</text>
<line x1="35.40" y1="413.34" x2="39.30" y2="413.34" stroke="#000" stroke-width="1.1" stroke-linecap="butt"/>
<text x="34.60" y="416.44" font-size="8.6" text-anchor="end" font-weight="bold" fill="#000" >100</text>
<line x1="35.40" y1="389.96" x2="39.30" y2="389.96" stroke="#000" stroke-width="1.1" stroke-linecap="butt"/>
<text x="34.60" y="393.06" font-size="8.6" text-anchor="end" font-weight="bold" fill="#000" >150</text>
<line x1="35.40" y1="366.58" x2="39.30" y2="366.58" stroke="#000" stroke-width="1.1" stroke-linecap="butt"/>
<text x="34.60" y="369.68" font-size="8.6" text-anchor="end" font-weight="bold" fill="#000" >200</text>
<line x1="35.40" y1="343.20" x2="39.30" y2="343.20" stroke="#000" stroke-width="1.1" stroke-linecap="butt"/>
<text x="34.60" y="346.30" font-size="8.6" text-anchor="end" font-weight="bold" fill="#000" >250</text>
<line x1="38.80" y1="460.10" x2="117.00" y2="460.10" stroke="#000" stroke-width="1.1" stroke-linecap="butt"/>
<line x1="58.40" y1="460.10" x2="58.40" y2="464.30" stroke="#000" stroke-width="1.1" stroke-linecap="butt"/>
<line x1="97.50" y1="460.10" x2="97.50" y2="464.30" stroke="#000" stroke-width="1.1" stroke-linecap="butt"/>
<line x1="58.40" y1="377.80" x2="58.40" y2="360.03" stroke="#000" stroke-width="0.9" stroke-linecap="butt"/>
<line x1="51.90" y1="360.03" x2="64.90" y2="360.03" stroke="#000" stroke-width="0.9" stroke-linecap="butt"/>
<rect x="45.20" y="377.80" width="26.40" height="82.30" fill="#000" stroke="none" stroke-width="1"/>
<line x1="97.50" y1="453.32" x2="97.50" y2="450.05" stroke="#000" stroke-width="0.9" stroke-linecap="butt"/>
<line x1="91.00" y1="450.05" x2="104.00" y2="450.05" stroke="#000" stroke-width="0.9" stroke-linecap="butt"/>
<rect x="84.30" y="453.32" width="26.40" height="6.78" fill="#000" stroke="none" stroke-width="1"/>
<text x="98.80" y="443.50" font-size="9" text-anchor="middle" font-weight="bold" fill="#000" >***</text>
<text x="14.50" y="401.65" font-size="11.2" text-anchor="middle" transform="rotate(-90 14.50 401.65)" fill="#000" >IL-13 (pg/ml)</text>
<line x1="39.30" y1="479.50" x2="39.30" y2="597.80" stroke="#000" stroke-width="1.1" stroke-linecap="butt"/>
<line x1="35.40" y1="597.30" x2="39.30" y2="597.30" stroke="#000" stroke-width="1.1" stroke-linecap="butt"/>
<text x="34.60" y="600.40" font-size="8.6" text-anchor="end" font-weight="bold" fill="#000" >0</text>
<line x1="35.40" y1="567.97" x2="39.30" y2="567.97" stroke="#000" stroke-width="1.1" stroke-linecap="butt"/>
<text x="34.60" y="571.07" font-size="8.6" text-anchor="end" font-weight="bold" fill="#000" >100</text>
<line x1="35.40" y1="538.65" x2="39.30" y2="538.65" stroke="#000" stroke-width="1.1" stroke-linecap="butt"/>
<text x="34.60" y="541.75" font-size="8.6" text-anchor="end" font-weight="bold" fill="#000" >200</text>
<line x1="35.40" y1="509.32" x2="39.30" y2="509.32" stroke="#000" stroke-width="1.1" stroke-linecap="butt"/>
<text x="34.60" y="512.42" font-size="8.6" text-anchor="end" font-weight="bold" fill="#000" >300</text>
<line x1="35.40" y1="480.00" x2="39.30" y2="480.00" stroke="#000" stroke-width="1.1" stroke-linecap="butt"/>
<text x="34.60" y="483.10" font-size="8.6" text-anchor="end" font-weight="bold" fill="#000" >400</text>
<line x1="38.80" y1="597.30" x2="117.00" y2="597.30" stroke="#000" stroke-width="1.1" stroke-linecap="butt"/>
<line x1="58.40" y1="597.30" x2="58.40" y2="601.50" stroke="#000" stroke-width="1.1" stroke-linecap="butt"/>
<line x1="97.50" y1="597.30" x2="97.50" y2="601.50" stroke="#000" stroke-width="1.1" stroke-linecap="butt"/>
<line x1="58.40" y1="526.92" x2="58.40" y2="510.50" stroke="#000" stroke-width="0.9" stroke-linecap="butt"/>
<line x1="51.90" y1="510.50" x2="64.90" y2="510.50" stroke="#000" stroke-width="0.9" stroke-linecap="butt"/>
<rect x="45.20" y="526.92" width="26.40" height="70.38" fill="#000" stroke="none" stroke-width="1"/>
<line x1="97.50" y1="589.24" x2="97.50" y2="586.01" stroke="#000" stroke-width="0.9" stroke-linecap="butt"/>
<line x1="91.00" y1="586.01" x2="104.00" y2="586.01" stroke="#000" stroke-width="0.9" stroke-linecap="butt"/>
<rect x="84.30" y="589.24" width="26.40" height="8.06" fill="#000" stroke="none" stroke-width="1"/>
<text x="98.80" y="578.50" font-size="9" text-anchor="middle" font-weight="bold" fill="#000" >**</text>
<text x="14.50" y="538.65" font-size="11.2" text-anchor="middle" transform="rotate(-90 14.50 538.65)" fill="#000" >IL-5 (pg/ml)</text>
<text x="58.90" y="611.10" font-size="10.8" text-anchor="middle" fill="#000" >PBS</text>
<text x="96.90" y="611.10" font-size="10.8" text-anchor="middle" fill="#000" >FHES</text>
<line x1="47.40" y1="614.90" x2="115.80" y2="614.90" stroke="#999" stroke-width="1.2" stroke-linecap="butt"/>
<text x="40.80" y="627.30" font-size="11.2" text-anchor="start" fill="#000" >MOG 25 &#956;g/ml</text>
<text x="165.60" y="205.80" font-size="15" text-anchor="start" fill="#000" >D</text>
<line x1="200.50" y1="209.50" x2="200.50" y2="327.90" stroke="#000" stroke-width="1.1" stroke-linecap="butt"/>
<line x1="196.60" y1="327.40" x2="200.50" y2="327.40" stroke="#000" stroke-width="1.1" stroke-linecap="butt"/>
<text x="195.80" y="330.50" font-size="8.6" text-anchor="end" font-weight="bold" fill="#000" >0</text>
<line x1="196.60" y1="307.83" x2="200.50" y2="307.83" stroke="#000" stroke-width="1.1" stroke-linecap="butt"/>
<text x="195.80" y="310.93" font-size="8.6" text-anchor="end" font-weight="bold" fill="#000" >20</text>
<line x1="196.60" y1="288.27" x2="200.50" y2="288.27" stroke="#000" stroke-width="1.1" stroke-linecap="butt"/>
<text x="195.80" y="291.36" font-size="8.6" text-anchor="end" font-weight="bold" fill="#000" >40</text>
<line x1="196.60" y1="268.70" x2="200.50" y2="268.70" stroke="#000" stroke-width="1.1" stroke-linecap="butt"/>
<text x="195.80" y="271.80" font-size="8.6" text-anchor="end" font-weight="bold" fill="#000" >60</text>
<line x1="196.60" y1="249.13" x2="200.50" y2="249.13" stroke="#000" stroke-width="1.1" stroke-linecap="butt"/>
<text x="195.80" y="252.23" font-size="8.6" text-anchor="end" font-weight="bold" fill="#000" >80</text>
<line x1="196.60" y1="229.57" x2="200.50" y2="229.57" stroke="#000" stroke-width="1.1" stroke-linecap="butt"/>
<text x="195.80" y="232.66" font-size="8.6" text-anchor="end" font-weight="bold" fill="#000" >100</text>
<line x1="196.60" y1="210.00" x2="200.50" y2="210.00" stroke="#000" stroke-width="1.1" stroke-linecap="butt"/>
<text x="195.80" y="213.10" font-size="8.6" text-anchor="end" font-weight="bold" fill="#000" >120</text>
<line x1="200.00" y1="327.40" x2="317.60" y2="327.40" stroke="#000" stroke-width="1.1" stroke-linecap="butt"/>
<line x1="210.30" y1="327.40" x2="210.30" y2="331.60" stroke="#000" stroke-width="1.1" stroke-linecap="butt"/>
<rect x="205.40" y="326.91" width="9.80" height="0.49" fill="#000" stroke="none" stroke-width="1"/>
<line x1="222.80" y1="327.40" x2="222.80" y2="331.60" stroke="#000" stroke-width="1.1" stroke-linecap="butt"/>
<line x1="222.80" y1="326.23" x2="222.80" y2="325.93" stroke="#666" stroke-width="0.7" stroke-linecap="butt"/>
<line x1="219.80" y1="325.93" x2="225.80" y2="325.93" stroke="#666" stroke-width="0.7" stroke-linecap="butt"/>
<rect x="217.90" y="326.23" width="9.80" height="1.17" fill="#000" stroke="none" stroke-width="1"/>
<line x1="235.30" y1="327.40" x2="235.30" y2="331.60" stroke="#000" stroke-width="1.1" stroke-linecap="butt"/>
<line x1="235.30" y1="314.68" x2="235.30" y2="311.26" stroke="#666" stroke-width="0.7" stroke-linecap="butt"/>
<line x1="232.30" y1="311.26" x2="238.30" y2="311.26" stroke="#666" stroke-width="0.7" stroke-linecap="butt"/>
<rect x="230.40" y="314.68" width="9.80" height="12.72" fill="#000" stroke="none" stroke-width="1"/>
<line x1="247.50" y1="327.40" x2="247.50" y2="331.60" stroke="#000" stroke-width="1.1" stroke-linecap="butt"/>
<line x1="247.50" y1="256.96" x2="247.50" y2="229.57" stroke="#666" stroke-width="0.7" stroke-linecap="butt"/>
<line x1="244.50" y1="229.57" x2="250.50" y2="229.57" stroke="#666" stroke-width="0.7" stroke-linecap="butt"/>
<rect x="242.60" y="256.96" width="9.80" height="70.44" fill="#000" stroke="none" stroke-width="1"/>
<line x1="268.60" y1="327.40" x2="268.60" y2="331.60" stroke="#000" stroke-width="1.1" stroke-linecap="butt"/>
<rect x="263.70" y="327.01" width="9.80" height="0.39" fill="#000" stroke="none" stroke-width="1"/>
<line x1="280.80" y1="327.40" x2="280.80" y2="331.60" stroke="#000" stroke-width="1.1" stroke-linecap="butt"/>
<rect x="275.90" y="327.01" width="9.80" height="0.39" fill="#000" stroke="none" stroke-width="1"/>
<line x1="293.00" y1="327.40" x2="293.00" y2="331.60" stroke="#000" stroke-width="1.1" stroke-linecap="butt"/>
<line x1="293.00" y1="326.23" x2="293.00" y2="325.93" stroke="#666" stroke-width="0.7" stroke-linecap="butt"/>
<line x1="290.00" y1="325.93" x2="296.00" y2="325.93" stroke="#666" stroke-width="0.7" stroke-linecap="butt"/>
<rect x="288.10" y="326.23" width="9.80" height="1.17" fill="#000" stroke="none" stroke-width="1"/>
<line x1="305.30" y1="327.40" x2="305.30" y2="331.60" stroke="#000" stroke-width="1.1" stroke-linecap="butt"/>
<line x1="305.30" y1="324.46" x2="305.30" y2="323.88" stroke="#666" stroke-width="0.7" stroke-linecap="butt"/>
<line x1="302.30" y1="323.88" x2="308.30" y2="323.88" stroke="#666" stroke-width="0.7" stroke-linecap="butt"/>
<rect x="300.40" y="324.46" width="9.80" height="2.94" fill="#000" stroke="none" stroke-width="1"/>
<text x="306.00" y="312.00" font-size="8.5" text-anchor="middle" font-weight="bold" fill="#000" >***</text>
<text x="175.50" y="268.70" font-size="11.2" text-anchor="middle" transform="rotate(-90 175.50 268.70)" fill="#000" >IFN-&#947; ng/ml</text>
<line x1="200.50" y1="340.30" x2="200.50" y2="458.30" stroke="#000" stroke-width="1.1" stroke-linecap="butt"/>
<line x1="196.60" y1="457.80" x2="200.50" y2="457.80" stroke="#000" stroke-width="1.1" stroke-linecap="butt"/>
<text x="195.80" y="460.90" font-size="8.6" text-anchor="end" font-weight="bold" fill="#000" >0</text>
<line x1="196.60" y1="428.55" x2="200.50" y2="428.55" stroke="#000" stroke-width="1.1" stroke-linecap="butt"/>
<text x="195.80" y="431.65" font-size="8.6" text-anchor="end" font-weight="bold" fill="#000" >200</text>
<line x1="196.60" y1="399.30" x2="200.50" y2="399.30" stroke="#000" stroke-width="1.1" stroke-linecap="butt"/>
<text x="195.80" y="402.40" font-size="8.6" text-anchor="end" font-weight="bold" fill="#000" >400</text>
<line x1="196.60" y1="370.05" x2="200.50" y2="370.05" stroke="#000" stroke-width="1.1" stroke-linecap="butt"/>
<text x="195.80" y="373.15" font-size="8.6" text-anchor="end" font-weight="bold" fill="#000" >600</text>
<line x1="196.60" y1="340.80" x2="200.50" y2="340.80" stroke="#000" stroke-width="1.1" stroke-linecap="butt"/>
<text x="195.80" y="343.90" font-size="8.6" text-anchor="end" font-weight="bold" fill="#000" >800</text>
<line x1="200.00" y1="457.80" x2="317.60" y2="457.80" stroke="#000" stroke-width="1.1" stroke-linecap="butt"/>
<line x1="210.30" y1="457.80" x2="210.30" y2="462.00" stroke="#000" stroke-width="1.1" stroke-linecap="butt"/>
<rect x="205.40" y="456.63" width="9.80" height="1.17" fill="#000" stroke="none" stroke-width="1"/>
<line x1="222.80" y1="457.80" x2="222.80" y2="462.00" stroke="#000" stroke-width="1.1" stroke-linecap="butt"/>
<line x1="222.80" y1="450.49" x2="222.80" y2="449.76" stroke="#666" stroke-width="0.7" stroke-linecap="butt"/>
<line x1="219.80" y1="449.76" x2="225.80" y2="449.76" stroke="#666" stroke-width="0.7" stroke-linecap="butt"/>
<rect x="217.90" y="450.49" width="9.80" height="7.31" fill="#000" stroke="none" stroke-width="1"/>
<line x1="235.30" y1="457.80" x2="235.30" y2="462.00" stroke="#000" stroke-width="1.1" stroke-linecap="butt"/>
<line x1="235.30" y1="420.51" x2="235.30" y2="409.98" stroke="#666" stroke-width="0.7" stroke-linecap="butt"/>
<line x1="232.30" y1="409.98" x2="238.30" y2="409.98" stroke="#666" stroke-width="0.7" stroke-linecap="butt"/>
<rect x="230.40" y="420.51" width="9.80" height="37.29" fill="#000" stroke="none" stroke-width="1"/>
<line x1="247.50" y1="457.80" x2="247.50" y2="462.00" stroke="#000" stroke-width="1.1" stroke-linecap="butt"/>
<line x1="247.50" y1="375.90" x2="247.50" y2="348.11" stroke="#666" stroke-width="0.7" stroke-linecap="butt"/>
<line x1="244.50" y1="348.11" x2="250.50" y2="348.11" stroke="#666" stroke-width="0.7" stroke-linecap="butt"/>
<rect x="242.60" y="375.90" width="9.80" height="81.90" fill="#000" stroke="none" stroke-width="1"/>
<line x1="268.60" y1="457.80" x2="268.60" y2="462.00" stroke="#000" stroke-width="1.1" stroke-linecap="butt"/>
<rect x="263.70" y="456.63" width="9.80" height="1.17" fill="#000" stroke="none" stroke-width="1"/>
<line x1="280.80" y1="457.80" x2="280.80" y2="462.00" stroke="#000" stroke-width="1.1" stroke-linecap="butt"/>
<line x1="280.80" y1="456.05" x2="280.80" y2="455.75" stroke="#666" stroke-width="0.7" stroke-linecap="butt"/>
<line x1="277.80" y1="455.75" x2="283.80" y2="455.75" stroke="#666" stroke-width="0.7" stroke-linecap="butt"/>
<rect x="275.90" y="456.05" width="9.80" height="1.75" fill="#000" stroke="none" stroke-width="1"/>
<line x1="293.00" y1="457.80" x2="293.00" y2="462.00" stroke="#000" stroke-width="1.1" stroke-linecap="butt"/>
<line x1="293.00" y1="450.49" x2="293.00" y2="449.32" stroke="#666" stroke-width="0.7" stroke-linecap="butt"/>
<line x1="290.00" y1="449.32" x2="296.00" y2="449.32" stroke="#666" stroke-width="0.7" stroke-linecap="butt"/>
<rect x="288.10" y="450.49" width="9.80" height="7.31" fill="#000" stroke="none" stroke-width="1"/>
<line x1="305.30" y1="457.80" x2="305.30" y2="462.00" stroke="#000" stroke-width="1.1" stroke-linecap="butt"/>
<line x1="305.30" y1="443.91" x2="305.30" y2="441.42" stroke="#666" stroke-width="0.7" stroke-linecap="butt"/>
<line x1="302.30" y1="441.42" x2="308.30" y2="441.42" stroke="#666" stroke-width="0.7" stroke-linecap="butt"/>
<rect x="300.40" y="443.91" width="9.80" height="13.89" fill="#000" stroke="none" stroke-width="1"/>
<text x="293.50" y="447.00" font-size="8.5" text-anchor="middle" font-weight="bold" fill="#000" >**</text>
<text x="306.50" y="438.50" font-size="8.5" text-anchor="middle" font-weight="bold" fill="#000" >***</text>
<text x="175.50" y="399.30" font-size="11.2" text-anchor="middle" transform="rotate(-90 175.50 399.30)" fill="#000" >IL-17 pg/ml</text>
<line x1="200.50" y1="479.50" x2="200.50" y2="597.90" stroke="#000" stroke-width="1.1" stroke-linecap="butt"/>
<line x1="196.60" y1="597.40" x2="200.50" y2="597.40" stroke="#000" stroke-width="1.1" stroke-linecap="butt"/>
<text x="195.80" y="601.40" font-size="11.1" text-anchor="end" font-weight="bold" fill="#000" >0</text>
<line x1="196.60" y1="573.92" x2="200.50" y2="573.92" stroke="#000" stroke-width="1.1" stroke-linecap="butt"/>
<text x="195.80" y="577.92" font-size="11.1" text-anchor="end" font-weight="bold" fill="#000" >100</text>
<line x1="196.60" y1="550.44" x2="200.50" y2="550.44" stroke="#000" stroke-width="1.1" stroke-linecap="butt"/>
<text x="195.80" y="554.44" font-size="11.1" text-anchor="end" font-weight="bold" fill="#000" >200</text>
<line x1="196.60" y1="526.96" x2="200.50" y2="526.96" stroke="#000" stroke-width="1.1" stroke-linecap="butt"/>
<text x="195.80" y="530.96" font-size="11.1" text-anchor="end" font-weight="bold" fill="#000" >300</text>
<line x1="196.60" y1="503.48" x2="200.50" y2="503.48" stroke="#000" stroke-width="1.1" stroke-linecap="butt"/>
<text x="195.80" y="507.48" font-size="11.1" text-anchor="end" font-weight="bold" fill="#000" >400</text>
<line x1="196.60" y1="480.00" x2="200.50" y2="480.00" stroke="#000" stroke-width="1.1" stroke-linecap="butt"/>
<text x="195.80" y="484.00" font-size="11.1" text-anchor="end" font-weight="bold" fill="#000" >500</text>
<line x1="200.00" y1="597.40" x2="317.60" y2="597.40" stroke="#000" stroke-width="1.1" stroke-linecap="butt"/>
<line x1="210.30" y1="597.40" x2="210.30" y2="601.60" stroke="#000" stroke-width="1.1" stroke-linecap="butt"/>
<line x1="222.80" y1="597.40" x2="222.80" y2="601.60" stroke="#000" stroke-width="1.1" stroke-linecap="butt"/>
<line x1="222.80" y1="594.58" x2="222.80" y2="593.88" stroke="#666" stroke-width="0.7" stroke-linecap="butt"/>
<line x1="219.80" y1="593.88" x2="225.80" y2="593.88" stroke="#666" stroke-width="0.7" stroke-linecap="butt"/>
<rect x="217.90" y="594.58" width="9.80" height="2.82" fill="#000" stroke="none" stroke-width="1"/>
<line x1="235.30" y1="597.40" x2="235.30" y2="601.60" stroke="#000" stroke-width="1.1" stroke-linecap="butt"/>
<line x1="235.30" y1="559.13" x2="235.30" y2="554.43" stroke="#666" stroke-width="0.7" stroke-linecap="butt"/>
<line x1="232.30" y1="554.43" x2="238.30" y2="554.43" stroke="#666" stroke-width="0.7" stroke-linecap="butt"/>
<rect x="230.40" y="559.13" width="9.80" height="38.27" fill="#000" stroke="none" stroke-width="1"/>
<line x1="247.50" y1="597.40" x2="247.50" y2="601.60" stroke="#000" stroke-width="1.1" stroke-linecap="butt"/>
<line x1="247.50" y1="507.00" x2="247.50" y2="498.78" stroke="#666" stroke-width="0.7" stroke-linecap="butt"/>
<line x1="244.50" y1="498.78" x2="250.50" y2="498.78" stroke="#666" stroke-width="0.7" stroke-linecap="butt"/>
<rect x="242.60" y="507.00" width="9.80" height="90.40" fill="#000" stroke="none" stroke-width="1"/>
<line x1="268.60" y1="597.40" x2="268.60" y2="601.60" stroke="#000" stroke-width="1.1" stroke-linecap="butt"/>
<line x1="280.80" y1="597.40" x2="280.80" y2="601.60" stroke="#000" stroke-width="1.1" stroke-linecap="butt"/>
<line x1="280.80" y1="595.76" x2="280.80" y2="595.29" stroke="#666" stroke-width="0.7" stroke-linecap="butt"/>
<line x1="277.80" y1="595.29" x2="283.80" y2="595.29" stroke="#666" stroke-width="0.7" stroke-linecap="butt"/>
<rect x="275.90" y="595.76" width="9.80" height="1.64" fill="#000" stroke="none" stroke-width="1"/>
<line x1="293.00" y1="597.40" x2="293.00" y2="601.60" stroke="#000" stroke-width="1.1" stroke-linecap="butt"/>
<line x1="293.00" y1="574.62" x2="293.00" y2="570.63" stroke="#666" stroke-width="0.7" stroke-linecap="butt"/>
<line x1="290.00" y1="570.63" x2="296.00" y2="570.63" stroke="#666" stroke-width="0.7" stroke-linecap="butt"/>
<rect x="288.10" y="574.62" width="9.80" height="22.78" fill="#000" stroke="none" stroke-width="1"/>
<line x1="305.30" y1="597.40" x2="305.30" y2="601.60" stroke="#000" stroke-width="1.1" stroke-linecap="butt"/>
<line x1="305.30" y1="535.88" x2="305.30" y2="530.25" stroke="#666" stroke-width="0.7" stroke-linecap="butt"/>
<line x1="302.30" y1="530.25" x2="308.30" y2="530.25" stroke="#666" stroke-width="0.7" stroke-linecap="butt"/>
<rect x="300.40" y="535.88" width="9.80" height="61.52" fill="#000" stroke="none" stroke-width="1"/>
<text x="293.00" y="566.50" font-size="8.5" text-anchor="middle" font-weight="bold" fill="#000" >**</text>
<text x="305.50" y="528.00" font-size="8.5" text-anchor="middle" font-weight="bold" fill="#000" >***</text>
<text x="171.00" y="538.70" font-size="11.0" text-anchor="middle" transform="rotate(-90 171.00 538.70)" fill="#000" >IL-4 pg/ml</text>
<text x="210.30" y="611.20" font-size="11.3" text-anchor="middle" fill="#000" >0</text>
<text x="222.80" y="611.20" font-size="11.3" text-anchor="middle" fill="#000" >4</text>
<text x="235.80" y="611.20" font-size="11.3" text-anchor="middle" fill="#000" >20</text>
<text x="249.80" y="611.20" font-size="11.3" text-anchor="middle" fill="#000" >100</text>
<text x="268.60" y="611.20" font-size="11.3" text-anchor="middle" fill="#000" >0</text>
<text x="280.80" y="611.20" font-size="11.3" text-anchor="middle" fill="#000" >4</text>
<text x="293.50" y="611.20" font-size="11.3" text-anchor="middle" fill="#000" >20</text>
<text x="307.60" y="611.20" font-size="11.3" text-anchor="middle" fill="#000" >100</text>
<text x="203.30" y="611.30" font-size="11" text-anchor="end" fill="#000" >MOG (&#956;g/ml)</text>
<line x1="210.00" y1="614.60" x2="253.00" y2="614.60" stroke="#333" stroke-width="1.1" stroke-linecap="butt"/>
<line x1="268.00" y1="614.60" x2="311.00" y2="614.60" stroke="#333" stroke-width="1.1" stroke-linecap="butt"/>
<text x="232.60" y="627.50" font-size="11.2" text-anchor="middle" fill="#000" >PBS</text>
<text x="288.50" y="627.50" font-size="11.2" text-anchor="middle" fill="#000" >FHES</text>
<text x="354.80" y="205.40" font-size="15" text-anchor="start" fill="#000" >E</text>
<line x1="401.10" y1="209.80" x2="401.10" y2="327.80" stroke="#000" stroke-width="1.1" stroke-linecap="butt"/>
<line x1="397.60" y1="327.30" x2="401.10" y2="327.30" stroke="#000" stroke-width="1.1" stroke-linecap="butt"/>
<text x="396.80" y="330.32" font-size="8.4" text-anchor="end" font-weight="bold" fill="#000" >0</text>
<line x1="397.60" y1="298.05" x2="401.10" y2="298.05" stroke="#000" stroke-width="1.1" stroke-linecap="butt"/>
<text x="396.80" y="301.07" font-size="8.4" text-anchor="end" font-weight="bold" fill="#000" >100</text>
<line x1="397.60" y1="268.80" x2="401.10" y2="268.80" stroke="#000" stroke-width="1.1" stroke-linecap="butt"/>
<text x="396.80" y="271.82" font-size="8.4" text-anchor="end" font-weight="bold" fill="#000" >200</text>
<line x1="397.60" y1="239.55" x2="401.10" y2="239.55" stroke="#000" stroke-width="1.1" stroke-linecap="butt"/>
<text x="396.80" y="242.57" font-size="8.4" text-anchor="end" font-weight="bold" fill="#000" >300</text>
<line x1="397.60" y1="210.30" x2="401.10" y2="210.30" stroke="#000" stroke-width="1.1" stroke-linecap="butt"/>
<text x="396.80" y="213.32" font-size="8.4" text-anchor="end" font-weight="bold" fill="#000" >400</text>
<line x1="400.60" y1="327.30" x2="520.00" y2="327.30" stroke="#000" stroke-width="1.1" stroke-linecap="butt"/>
<line x1="430.50" y1="327.30" x2="430.50" y2="331.50" stroke="#000" stroke-width="1.1" stroke-linecap="butt"/>
<line x1="489.00" y1="327.30" x2="489.00" y2="331.50" stroke="#000" stroke-width="1.1" stroke-linecap="butt"/>
<line x1="419.05" y1="294.54" x2="419.05" y2="285.18" stroke="#666" stroke-width="0.75" stroke-linecap="butt"/>
<line x1="414.55" y1="285.18" x2="423.55" y2="285.18" stroke="#666" stroke-width="0.75" stroke-linecap="butt"/>
<rect x="410.40" y="294.54" width="17.30" height="32.76" fill="#000" stroke="none" stroke-width="1"/>
<line x1="441.70" y1="305.66" x2="441.70" y2="301.27" stroke="#666" stroke-width="0.75" stroke-linecap="butt"/>
<line x1="437.20" y1="301.27" x2="446.20" y2="301.27" stroke="#666" stroke-width="0.75" stroke-linecap="butt"/>
<rect x="433.30" y="306.16" width="16.80" height="21.14" fill="#fff" stroke="#000" stroke-width="1"/>
<line x1="477.60" y1="290.44" x2="477.60" y2="280.50" stroke="#666" stroke-width="0.75" stroke-linecap="butt"/>
<line x1="473.10" y1="280.50" x2="482.10" y2="280.50" stroke="#666" stroke-width="0.75" stroke-linecap="butt"/>
<rect x="468.80" y="290.44" width="17.60" height="36.86" fill="#000" stroke="none" stroke-width="1"/>
<line x1="500.05" y1="232.82" x2="500.05" y2="219.66" stroke="#666" stroke-width="0.75" stroke-linecap="butt"/>
<line x1="495.55" y1="219.66" x2="504.55" y2="219.66" stroke="#666" stroke-width="0.75" stroke-linecap="butt"/>
<rect x="491.60" y="233.32" width="16.90" height="93.98" fill="#fff" stroke="#000" stroke-width="1"/>
<text x="500.00" y="214.00" font-size="8.5" text-anchor="middle" font-weight="bold" fill="#000" >***</text>
<text x="374.50" y="268.80" font-size="12.6" text-anchor="middle" transform="rotate(-90 374.50 268.80)" fill="#000" >IL-4 (pg/ml)</text>
<line x1="401.10" y1="340.50" x2="401.10" y2="458.40" stroke="#000" stroke-width="1.1" stroke-linecap="butt"/>
<line x1="397.60" y1="457.90" x2="401.10" y2="457.90" stroke="#000" stroke-width="1.1" stroke-linecap="butt"/>
<text x="396.80" y="461.44" font-size="11.5" text-anchor="end" fill="#000" >0</text>
<line x1="397.60" y1="428.67" x2="401.10" y2="428.67" stroke="#000" stroke-width="1.1" stroke-linecap="butt"/>
<text x="396.80" y="432.21" font-size="11.5" text-anchor="end" fill="#000" >1000</text>
<line x1="397.60" y1="399.45" x2="401.10" y2="399.45" stroke="#000" stroke-width="1.1" stroke-linecap="butt"/>
<text x="396.80" y="402.99" font-size="11.5" text-anchor="end" fill="#000" >2000</text>
<line x1="397.60" y1="370.23" x2="401.10" y2="370.23" stroke="#000" stroke-width="1.1" stroke-linecap="butt"/>
<text x="396.80" y="373.76" font-size="11.5" text-anchor="end" fill="#000" >3000</text>
<line x1="397.60" y1="341.00" x2="401.10" y2="341.00" stroke="#000" stroke-width="1.1" stroke-linecap="butt"/>
<text x="396.80" y="344.54" font-size="11.5" text-anchor="end" fill="#000" >4000</text>
<line x1="400.60" y1="457.90" x2="520.00" y2="457.90" stroke="#000" stroke-width="1.1" stroke-linecap="butt"/>
<line x1="430.50" y1="457.90" x2="430.50" y2="462.10" stroke="#000" stroke-width="1.1" stroke-linecap="butt"/>
<line x1="489.00" y1="457.90" x2="489.00" y2="462.10" stroke="#000" stroke-width="1.1" stroke-linecap="butt"/>
<line x1="419.05" y1="419.62" x2="419.05" y2="407.93" stroke="#111" stroke-width="1.0" stroke-linecap="butt"/>
<line x1="414.55" y1="407.93" x2="423.55" y2="407.93" stroke="#111" stroke-width="1.0" stroke-linecap="butt"/>
<rect x="410.40" y="419.62" width="17.30" height="38.28" fill="#000" stroke="none" stroke-width="1"/>
<line x1="441.70" y1="435.98" x2="441.70" y2="433.06" stroke="#111" stroke-width="1.0" stroke-linecap="butt"/>
<line x1="437.20" y1="433.06" x2="446.20" y2="433.06" stroke="#111" stroke-width="1.0" stroke-linecap="butt"/>
<rect x="433.30" y="436.48" width="16.80" height="21.42" fill="#fff" stroke="#000" stroke-width="1"/>
<line x1="477.60" y1="451.76" x2="477.60" y2="448.84" stroke="#111" stroke-width="1.0" stroke-linecap="butt"/>
<line x1="473.10" y1="448.84" x2="482.10" y2="448.84" stroke="#111" stroke-width="1.0" stroke-linecap="butt"/>
<rect x="468.80" y="451.76" width="17.60" height="6.14" fill="#000" stroke="none" stroke-width="1"/>
<line x1="500.05" y1="377.53" x2="500.05" y2="364.38" stroke="#111" stroke-width="1.0" stroke-linecap="butt"/>
<line x1="495.55" y1="364.38" x2="504.55" y2="364.38" stroke="#111" stroke-width="1.0" stroke-linecap="butt"/>
<rect x="491.60" y="378.03" width="16.90" height="79.87" fill="#fff" stroke="#000" stroke-width="1"/>
<text x="500.00" y="357.00" font-size="8.5" text-anchor="middle" font-weight="bold" fill="#000" >***</text>
<text x="366.50" y="399.45" font-size="11" text-anchor="middle" transform="rotate(-90 366.50 399.45)" fill="#000" >IL-13 (pg/ml)</text>
<line x1="401.10" y1="479.80" x2="401.10" y2="597.80" stroke="#000" stroke-width="1.1" stroke-linecap="butt"/>
<line x1="397.60" y1="597.30" x2="401.10" y2="597.30" stroke="#000" stroke-width="1.1" stroke-linecap="butt"/>
<text x="396.80" y="600.66" font-size="11" text-anchor="end" fill="#000" >0</text>
<line x1="397.60" y1="568.05" x2="401.10" y2="568.05" stroke="#000" stroke-width="1.1" stroke-linecap="butt"/>
<text x="396.80" y="571.41" font-size="11" text-anchor="end" fill="#000" >100</text>
<line x1="397.60" y1="538.80" x2="401.10" y2="538.80" stroke="#000" stroke-width="1.1" stroke-linecap="butt"/>
<text x="396.80" y="542.16" font-size="11" text-anchor="end" fill="#000" >200</text>
<line x1="397.60" y1="509.55" x2="401.10" y2="509.55" stroke="#000" stroke-width="1.1" stroke-linecap="butt"/>
<text x="396.80" y="512.91" font-size="11" text-anchor="end" fill="#000" >300</text>
<line x1="397.60" y1="480.30" x2="401.10" y2="480.30" stroke="#000" stroke-width="1.1" stroke-linecap="butt"/>
<text x="396.80" y="483.66" font-size="11" text-anchor="end" fill="#000" >400</text>
<line x1="400.60" y1="597.30" x2="520.00" y2="597.30" stroke="#000" stroke-width="1.1" stroke-linecap="butt"/>
<line x1="430.50" y1="597.30" x2="430.50" y2="601.50" stroke="#000" stroke-width="1.1" stroke-linecap="butt"/>
<line x1="489.00" y1="597.30" x2="489.00" y2="601.50" stroke="#000" stroke-width="1.1" stroke-linecap="butt"/>
<rect x="410.40" y="596.86" width="17.30" height="0.44" fill="#000" stroke="none" stroke-width="1"/>
<rect x="433.30" y="597.36" width="16.80" height="-0.06" fill="#fff" stroke="#000" stroke-width="1"/>
<line x1="477.60" y1="592.62" x2="477.60" y2="589.99" stroke="#111" stroke-width="1.0" stroke-linecap="butt"/>
<line x1="473.10" y1="589.99" x2="482.10" y2="589.99" stroke="#111" stroke-width="1.0" stroke-linecap="butt"/>
<rect x="468.80" y="592.62" width="17.60" height="4.68" fill="#000" stroke="none" stroke-width="1"/>
<line x1="500.05" y1="518.03" x2="500.05" y2="507.50" stroke="#111" stroke-width="1.0" stroke-linecap="butt"/>
<line x1="495.55" y1="507.50" x2="504.55" y2="507.50" stroke="#111" stroke-width="1.0" stroke-linecap="butt"/>
<rect x="491.60" y="518.53" width="16.90" height="78.77" fill="#fff" stroke="#000" stroke-width="1"/>
<text x="500.00" y="496.00" font-size="8.5" text-anchor="middle" font-weight="bold" fill="#000" >***</text>
<text x="371.50" y="538.80" font-size="12.6" text-anchor="middle" transform="rotate(-90 371.50 538.80)" fill="#000" >IL-5 (pg/ml)</text>
<rect x="408.30" y="492.20" width="12.60" height="5.70" fill="#000" stroke="none" stroke-width="1"/>
<rect x="408.80" y="507.20" width="11.60" height="5.00" fill="#fff" stroke="#000" stroke-width="1"/>
<text x="426.80" y="498.60" font-size="9.8" text-anchor="start" fill="#000" >PBS</text>
<text x="426.80" y="513.50" font-size="9.8" text-anchor="start" fill="#000" >FHES</text>
<text x="430.50" y="611.00" font-size="11.2" text-anchor="middle" fill="#000" >MOG</text>
<text x="493.00" y="611.00" font-size="11.2" text-anchor="middle" fill="#000" >HI-FHES</text>
<text x="1.20" y="657.20" font-size="15" text-anchor="start" fill="#000" >F</text>
<line x1="55.50" y1="651.25" x2="55.50" y2="769.25" stroke="#000" stroke-width="1.1" stroke-linecap="butt"/>
<line x1="55.00" y1="768.75" x2="231.30" y2="768.75" stroke="#000" stroke-width="1.1" stroke-linecap="butt"/>
<line x1="52.00" y1="768.75" x2="55.50" y2="768.75" stroke="#000" stroke-width="1.1" stroke-linecap="butt"/>
<text x="50.70" y="772.35" font-size="10.4" text-anchor="end" fill="#000" >0</text>
<line x1="52.00" y1="739.50" x2="55.50" y2="739.50" stroke="#000" stroke-width="1.1" stroke-linecap="butt"/>
<text x="50.70" y="743.10" font-size="10.4" text-anchor="end" fill="#000" >1</text>
<line x1="52.00" y1="710.25" x2="55.50" y2="710.25" stroke="#000" stroke-width="1.1" stroke-linecap="butt"/>
<text x="50.70" y="713.85" font-size="10.4" text-anchor="end" fill="#000" >2</text>
<line x1="52.00" y1="681.00" x2="55.50" y2="681.00" stroke="#000" stroke-width="1.1" stroke-linecap="butt"/>
<text x="50.70" y="684.60" font-size="10.4" text-anchor="end" fill="#000" >3</text>
<line x1="52.00" y1="651.75" x2="55.50" y2="651.75" stroke="#000" stroke-width="1.1" stroke-linecap="butt"/>
<text x="50.70" y="655.35" font-size="10.4" text-anchor="end" fill="#000" >4</text>
<line x1="69.70" y1="768.75" x2="69.70" y2="772.25" stroke="#000" stroke-width="1.1" stroke-linecap="butt"/>
<text x="69.70" y="783.00" font-size="11" text-anchor="middle" fill="#000" >2</text>
<line x1="88.10" y1="768.75" x2="88.10" y2="772.25" stroke="#000" stroke-width="1.1" stroke-linecap="butt"/>
<text x="88.10" y="783.00" font-size="11" text-anchor="middle" fill="#000" >4</text>
<line x1="106.50" y1="768.75" x2="106.50" y2="772.25" stroke="#000" stroke-width="1.1" stroke-linecap="butt"/>
<text x="106.50" y="783.00" font-size="11" text-anchor="middle" fill="#000" >6</text>
<line x1="124.90" y1="768.75" x2="124.90" y2="772.25" stroke="#000" stroke-width="1.1" stroke-linecap="butt"/>
<text x="124.90" y="783.00" font-size="11" text-anchor="middle" fill="#000" >8</text>
<line x1="143.30" y1="768.75" x2="143.30" y2="772.25" stroke="#000" stroke-width="1.1" stroke-linecap="butt"/>
<text x="143.30" y="783.00" font-size="11" text-anchor="middle" fill="#000" >10</text>
<line x1="161.70" y1="768.75" x2="161.70" y2="772.25" stroke="#000" stroke-width="1.1" stroke-linecap="butt"/>
<text x="161.70" y="783.00" font-size="11" text-anchor="middle" fill="#000" >12</text>
<line x1="180.10" y1="768.75" x2="180.10" y2="772.25" stroke="#000" stroke-width="1.1" stroke-linecap="butt"/>
<text x="180.10" y="783.00" font-size="11" text-anchor="middle" fill="#000" >14</text>
<line x1="198.50" y1="768.75" x2="198.50" y2="772.25" stroke="#000" stroke-width="1.1" stroke-linecap="butt"/>
<text x="198.50" y="783.00" font-size="11" text-anchor="middle" fill="#000" >16</text>
<line x1="216.90" y1="768.75" x2="216.90" y2="772.25" stroke="#000" stroke-width="1.1" stroke-linecap="butt"/>
<text x="216.90" y="783.00" font-size="11" text-anchor="middle" fill="#000" >18</text>
<text x="40.00" y="710.00" font-size="10.9" text-anchor="middle" transform="rotate(-90 40.00 710.00)" fill="#000" >Mean clinical score</text>
<line x1="161.70" y1="755.00" x2="161.70" y2="726.63" stroke="#4a4a4a" stroke-width="0.8" stroke-linecap="butt"/>
<line x1="159.10" y1="726.63" x2="164.30" y2="726.63" stroke="#4a4a4a" stroke-width="0.8" stroke-linecap="butt"/>
<line x1="159.10" y1="755.00" x2="164.30" y2="755.00" stroke="#4a4a4a" stroke-width="0.8" stroke-linecap="butt"/>
<line x1="170.90" y1="748.27" x2="170.90" y2="713.17" stroke="#4a4a4a" stroke-width="0.8" stroke-linecap="butt"/>
<line x1="168.30" y1="713.17" x2="173.50" y2="713.17" stroke="#4a4a4a" stroke-width="0.8" stroke-linecap="butt"/>
<line x1="168.30" y1="748.27" x2="173.50" y2="748.27" stroke="#4a4a4a" stroke-width="0.8" stroke-linecap="butt"/>
<line x1="180.10" y1="741.84" x2="180.10" y2="702.06" stroke="#4a4a4a" stroke-width="0.8" stroke-linecap="butt"/>
<line x1="177.50" y1="702.06" x2="182.70" y2="702.06" stroke="#4a4a4a" stroke-width="0.8" stroke-linecap="butt"/>
<line x1="177.50" y1="741.84" x2="182.70" y2="741.84" stroke="#4a4a4a" stroke-width="0.8" stroke-linecap="butt"/>
<line x1="189.30" y1="732.19" x2="189.30" y2="688.02" stroke="#4a4a4a" stroke-width="0.8" stroke-linecap="butt"/>
<line x1="186.70" y1="688.02" x2="191.90" y2="688.02" stroke="#4a4a4a" stroke-width="0.8" stroke-linecap="butt"/>
<line x1="186.70" y1="732.19" x2="191.90" y2="732.19" stroke="#4a4a4a" stroke-width="0.8" stroke-linecap="butt"/>
<line x1="198.50" y1="703.82" x2="198.50" y2="672.23" stroke="#4a4a4a" stroke-width="0.8" stroke-linecap="butt"/>
<line x1="195.90" y1="672.23" x2="201.10" y2="672.23" stroke="#4a4a4a" stroke-width="0.8" stroke-linecap="butt"/>
<line x1="195.90" y1="703.82" x2="201.10" y2="703.82" stroke="#4a4a4a" stroke-width="0.8" stroke-linecap="butt"/>
<line x1="207.70" y1="692.12" x2="207.70" y2="666.67" stroke="#4a4a4a" stroke-width="0.8" stroke-linecap="butt"/>
<line x1="205.10" y1="666.67" x2="210.30" y2="666.67" stroke="#4a4a4a" stroke-width="0.8" stroke-linecap="butt"/>
<line x1="205.10" y1="692.12" x2="210.30" y2="692.12" stroke="#4a4a4a" stroke-width="0.8" stroke-linecap="butt"/>
<line x1="216.90" y1="679.54" x2="216.90" y2="664.62" stroke="#4a4a4a" stroke-width="0.8" stroke-linecap="butt"/>
<line x1="214.30" y1="664.62" x2="219.50" y2="664.62" stroke="#4a4a4a" stroke-width="0.8" stroke-linecap="butt"/>
<line x1="214.30" y1="679.54" x2="219.50" y2="679.54" stroke="#4a4a4a" stroke-width="0.8" stroke-linecap="butt"/>
<line x1="226.10" y1="678.95" x2="226.10" y2="664.62" stroke="#4a4a4a" stroke-width="0.8" stroke-linecap="butt"/>
<line x1="223.50" y1="664.62" x2="228.70" y2="664.62" stroke="#4a4a4a" stroke-width="0.8" stroke-linecap="butt"/>
<line x1="223.50" y1="678.95" x2="228.70" y2="678.95" stroke="#4a4a4a" stroke-width="0.8" stroke-linecap="butt"/>
<polyline points="60.50,768.75 69.70,768.75 78.90,768.75 88.10,768.75 97.30,768.75 106.50,768.75 115.70,768.75 124.90,768.75 134.10,768.75 143.30,768.75 152.50,765.83 161.70,740.96 170.90,730.73 180.10,721.95 189.30,710.25 198.50,688.31 207.70,679.54 216.90,672.23 226.10,672.23" fill="none" stroke="#000" stroke-width="1.2"/>
<circle cx="60.50" cy="768.75" r="2.7" fill="#000" stroke="#000" stroke-width="1.1"/>
<circle cx="69.70" cy="768.75" r="2.7" fill="#000" stroke="#000" stroke-width="1.1"/>
<circle cx="78.90" cy="768.75" r="2.7" fill="#000" stroke="#000" stroke-width="1.1"/>
<circle cx="88.10" cy="768.75" r="2.7" fill="#000" stroke="#000" stroke-width="1.1"/>
<circle cx="97.30" cy="768.75" r="2.7" fill="#000" stroke="#000" stroke-width="1.1"/>
<circle cx="106.50" cy="768.75" r="2.7" fill="#000" stroke="#000" stroke-width="1.1"/>
<circle cx="115.70" cy="768.75" r="2.7" fill="#000" stroke="#000" stroke-width="1.1"/>
<circle cx="124.90" cy="768.75" r="2.7" fill="#000" stroke="#000" stroke-width="1.1"/>
<circle cx="134.10" cy="768.75" r="2.7" fill="#000" stroke="#000" stroke-width="1.1"/>
<circle cx="143.30" cy="768.75" r="2.7" fill="#000" stroke="#000" stroke-width="1.1"/>
<circle cx="152.50" cy="765.83" r="2.7" fill="#000" stroke="#000" stroke-width="1.1"/>
<circle cx="161.70" cy="740.96" r="2.7" fill="#000" stroke="#000" stroke-width="1.1"/>
<circle cx="170.90" cy="730.73" r="2.7" fill="#000" stroke="#000" stroke-width="1.1"/>
<circle cx="180.10" cy="721.95" r="2.7" fill="#000" stroke="#000" stroke-width="1.1"/>
<circle cx="189.30" cy="710.25" r="2.7" fill="#000" stroke="#000" stroke-width="1.1"/>
<circle cx="198.50" cy="688.31" r="2.7" fill="#000" stroke="#000" stroke-width="1.1"/>
<circle cx="207.70" cy="679.54" r="2.7" fill="#000" stroke="#000" stroke-width="1.1"/>
<circle cx="216.90" cy="672.23" r="2.7" fill="#000" stroke="#000" stroke-width="1.1"/>
<circle cx="226.10" cy="672.23" r="2.7" fill="#000" stroke="#000" stroke-width="1.1"/>
<line x1="170.90" y1="768.75" x2="170.90" y2="739.50" stroke="#4a4a4a" stroke-width="0.8" stroke-linecap="butt"/>
<line x1="168.30" y1="739.50" x2="173.50" y2="739.50" stroke="#4a4a4a" stroke-width="0.8" stroke-linecap="butt"/>
<line x1="180.10" y1="768.75" x2="180.10" y2="733.36" stroke="#4a4a4a" stroke-width="0.8" stroke-linecap="butt"/>
<line x1="177.50" y1="733.36" x2="182.70" y2="733.36" stroke="#4a4a4a" stroke-width="0.8" stroke-linecap="butt"/>
<line x1="189.30" y1="768.75" x2="189.30" y2="727.51" stroke="#4a4a4a" stroke-width="0.8" stroke-linecap="butt"/>
<line x1="186.70" y1="727.51" x2="191.90" y2="727.51" stroke="#4a4a4a" stroke-width="0.8" stroke-linecap="butt"/>
<line x1="198.50" y1="768.75" x2="198.50" y2="727.51" stroke="#4a4a4a" stroke-width="0.8" stroke-linecap="butt"/>
<line x1="195.90" y1="727.51" x2="201.10" y2="727.51" stroke="#4a4a4a" stroke-width="0.8" stroke-linecap="butt"/>
<line x1="207.70" y1="762.02" x2="207.70" y2="716.68" stroke="#4a4a4a" stroke-width="0.8" stroke-linecap="butt"/>
<line x1="205.10" y1="716.68" x2="210.30" y2="716.68" stroke="#4a4a4a" stroke-width="0.8" stroke-linecap="butt"/>
<line x1="205.10" y1="762.02" x2="210.30" y2="762.02" stroke="#4a4a4a" stroke-width="0.8" stroke-linecap="butt"/>
<line x1="216.90" y1="757.05" x2="216.90" y2="711.13" stroke="#4a4a4a" stroke-width="0.8" stroke-linecap="butt"/>
<line x1="214.30" y1="711.13" x2="219.50" y2="711.13" stroke="#4a4a4a" stroke-width="0.8" stroke-linecap="butt"/>
<line x1="214.30" y1="757.05" x2="219.50" y2="757.05" stroke="#4a4a4a" stroke-width="0.8" stroke-linecap="butt"/>
<line x1="226.10" y1="750.03" x2="226.10" y2="702.35" stroke="#4a4a4a" stroke-width="0.8" stroke-linecap="butt"/>
<line x1="223.50" y1="702.35" x2="228.70" y2="702.35" stroke="#4a4a4a" stroke-width="0.8" stroke-linecap="butt"/>
<line x1="223.50" y1="750.03" x2="228.70" y2="750.03" stroke="#4a4a4a" stroke-width="0.8" stroke-linecap="butt"/>
<polyline points="60.50,768.75 69.70,768.75 78.90,768.75 88.10,768.75 97.30,768.75 106.50,768.75 115.70,768.75 124.90,768.75 134.10,768.75 143.30,768.75 152.50,768.75 161.70,765.83 170.90,754.12 180.10,751.20 189.30,748.27 198.50,748.27 207.70,739.50 216.90,733.65 226.10,726.34" fill="none" stroke="#000" stroke-width="1.2"/>
<circle cx="60.50" cy="768.75" r="2.7" fill="#fff" stroke="#000" stroke-width="1.1"/>
<circle cx="69.70" cy="768.75" r="2.7" fill="#fff" stroke="#000" stroke-width="1.1"/>
<circle cx="78.90" cy="768.75" r="2.7" fill="#fff" stroke="#000" stroke-width="1.1"/>
<circle cx="88.10" cy="768.75" r="2.7" fill="#fff" stroke="#000" stroke-width="1.1"/>
<circle cx="97.30" cy="768.75" r="2.7" fill="#fff" stroke="#000" stroke-width="1.1"/>
<circle cx="106.50" cy="768.75" r="2.7" fill="#fff" stroke="#000" stroke-width="1.1"/>
<circle cx="115.70" cy="768.75" r="2.7" fill="#fff" stroke="#000" stroke-width="1.1"/>
<circle cx="124.90" cy="768.75" r="2.7" fill="#fff" stroke="#000" stroke-width="1.1"/>
<circle cx="134.10" cy="768.75" r="2.7" fill="#fff" stroke="#000" stroke-width="1.1"/>
<circle cx="143.30" cy="768.75" r="2.7" fill="#fff" stroke="#000" stroke-width="1.1"/>
<circle cx="152.50" cy="768.75" r="2.7" fill="#fff" stroke="#000" stroke-width="1.1"/>
<circle cx="161.70" cy="765.83" r="2.7" fill="#fff" stroke="#000" stroke-width="1.1"/>
<circle cx="170.90" cy="754.12" r="2.7" fill="#fff" stroke="#000" stroke-width="1.1"/>
<circle cx="180.10" cy="751.20" r="2.7" fill="#fff" stroke="#000" stroke-width="1.1"/>
<circle cx="189.30" cy="748.27" r="2.7" fill="#fff" stroke="#000" stroke-width="1.1"/>
<circle cx="198.50" cy="748.27" r="2.7" fill="#fff" stroke="#000" stroke-width="1.1"/>
<circle cx="207.70" cy="739.50" r="2.7" fill="#fff" stroke="#000" stroke-width="1.1"/>
<circle cx="216.90" cy="733.65" r="2.7" fill="#fff" stroke="#000" stroke-width="1.1"/>
<circle cx="226.10" cy="726.34" r="2.7" fill="#fff" stroke="#000" stroke-width="1.1"/>
<line x1="321.25" y1="651.25" x2="321.25" y2="769.25" stroke="#000" stroke-width="1.1" stroke-linecap="butt"/>
<line x1="320.75" y1="768.75" x2="497.50" y2="768.75" stroke="#000" stroke-width="1.1" stroke-linecap="butt"/>
<line x1="317.75" y1="768.75" x2="321.25" y2="768.75" stroke="#000" stroke-width="1.1" stroke-linecap="butt"/>
<text x="316.45" y="772.35" font-size="10.4" text-anchor="end" fill="#000" >0</text>
<line x1="317.75" y1="739.50" x2="321.25" y2="739.50" stroke="#000" stroke-width="1.1" stroke-linecap="butt"/>
<text x="316.45" y="743.10" font-size="10.4" text-anchor="end" fill="#000" >1</text>
<line x1="317.75" y1="710.25" x2="321.25" y2="710.25" stroke="#000" stroke-width="1.1" stroke-linecap="butt"/>
<text x="316.45" y="713.85" font-size="10.4" text-anchor="end" fill="#000" >2</text>
<line x1="317.75" y1="681.00" x2="321.25" y2="681.00" stroke="#000" stroke-width="1.1" stroke-linecap="butt"/>
<text x="316.45" y="684.60" font-size="10.4" text-anchor="end" fill="#000" >3</text>
<line x1="317.75" y1="651.75" x2="321.25" y2="651.75" stroke="#000" stroke-width="1.1" stroke-linecap="butt"/>
<text x="316.45" y="655.35" font-size="10.4" text-anchor="end" fill="#000" >4</text>
<line x1="335.22" y1="768.75" x2="335.22" y2="772.25" stroke="#000" stroke-width="1.1" stroke-linecap="butt"/>
<text x="335.22" y="783.00" font-size="11" text-anchor="middle" fill="#000" >2</text>
<line x1="353.66" y1="768.75" x2="353.66" y2="772.25" stroke="#000" stroke-width="1.1" stroke-linecap="butt"/>
<text x="353.66" y="783.00" font-size="11" text-anchor="middle" fill="#000" >4</text>
<line x1="372.10" y1="768.75" x2="372.10" y2="772.25" stroke="#000" stroke-width="1.1" stroke-linecap="butt"/>
<text x="372.10" y="783.00" font-size="11" text-anchor="middle" fill="#000" >6</text>
<line x1="390.54" y1="768.75" x2="390.54" y2="772.25" stroke="#000" stroke-width="1.1" stroke-linecap="butt"/>
<text x="390.54" y="783.00" font-size="11" text-anchor="middle" fill="#000" >8</text>
<line x1="408.98" y1="768.75" x2="408.98" y2="772.25" stroke="#000" stroke-width="1.1" stroke-linecap="butt"/>
<text x="408.98" y="783.00" font-size="11" text-anchor="middle" fill="#000" >10</text>
<line x1="427.42" y1="768.75" x2="427.42" y2="772.25" stroke="#000" stroke-width="1.1" stroke-linecap="butt"/>
<text x="427.42" y="783.00" font-size="11" text-anchor="middle" fill="#000" >12</text>
<line x1="445.86" y1="768.75" x2="445.86" y2="772.25" stroke="#000" stroke-width="1.1" stroke-linecap="butt"/>
<text x="445.86" y="783.00" font-size="11" text-anchor="middle" fill="#000" >14</text>
<line x1="464.30" y1="768.75" x2="464.30" y2="772.25" stroke="#000" stroke-width="1.1" stroke-linecap="butt"/>
<text x="464.30" y="783.00" font-size="11" text-anchor="middle" fill="#000" >16</text>
<line x1="482.74" y1="768.75" x2="482.74" y2="772.25" stroke="#000" stroke-width="1.1" stroke-linecap="butt"/>
<text x="482.74" y="783.00" font-size="11" text-anchor="middle" fill="#000" >18</text>
<text x="306.00" y="710.00" font-size="10.9" text-anchor="middle" transform="rotate(-90 306.00 710.00)" fill="#000" >Mean clinical score</text>
<line x1="408.98" y1="768.75" x2="408.98" y2="753.83" stroke="#4a4a4a" stroke-width="0.8" stroke-linecap="butt"/>
<line x1="406.38" y1="753.83" x2="411.58" y2="753.83" stroke="#4a4a4a" stroke-width="0.8" stroke-linecap="butt"/>
<line x1="418.20" y1="759.98" x2="418.20" y2="739.50" stroke="#4a4a4a" stroke-width="0.8" stroke-linecap="butt"/>
<line x1="415.60" y1="739.50" x2="420.80" y2="739.50" stroke="#4a4a4a" stroke-width="0.8" stroke-linecap="butt"/>
<line x1="415.60" y1="759.98" x2="420.80" y2="759.98" stroke="#4a4a4a" stroke-width="0.8" stroke-linecap="butt"/>
<line x1="427.42" y1="723.12" x2="427.42" y2="687.73" stroke="#4a4a4a" stroke-width="0.8" stroke-linecap="butt"/>
<line x1="424.82" y1="687.73" x2="430.02" y2="687.73" stroke="#4a4a4a" stroke-width="0.8" stroke-linecap="butt"/>
<line x1="424.82" y1="723.12" x2="430.02" y2="723.12" stroke="#4a4a4a" stroke-width="0.8" stroke-linecap="butt"/>
<line x1="436.64" y1="711.71" x2="436.64" y2="664.33" stroke="#4a4a4a" stroke-width="0.8" stroke-linecap="butt"/>
<line x1="434.04" y1="664.33" x2="439.24" y2="664.33" stroke="#4a4a4a" stroke-width="0.8" stroke-linecap="butt"/>
<line x1="434.04" y1="711.71" x2="439.24" y2="711.71" stroke="#4a4a4a" stroke-width="0.8" stroke-linecap="butt"/>
<line x1="445.86" y1="680.12" x2="445.86" y2="651.75" stroke="#4a4a4a" stroke-width="0.8" stroke-linecap="butt"/>
<line x1="443.26" y1="651.75" x2="448.46" y2="651.75" stroke="#4a4a4a" stroke-width="0.8" stroke-linecap="butt"/>
<line x1="443.26" y1="680.12" x2="448.46" y2="680.12" stroke="#4a4a4a" stroke-width="0.8" stroke-linecap="butt"/>
<line x1="455.08" y1="677.49" x2="455.08" y2="659.65" stroke="#4a4a4a" stroke-width="0.8" stroke-linecap="butt"/>
<line x1="452.48" y1="659.65" x2="457.68" y2="659.65" stroke="#4a4a4a" stroke-width="0.8" stroke-linecap="butt"/>
<line x1="452.48" y1="677.49" x2="457.68" y2="677.49" stroke="#4a4a4a" stroke-width="0.8" stroke-linecap="butt"/>
<line x1="464.30" y1="671.64" x2="464.30" y2="655.85" stroke="#4a4a4a" stroke-width="0.8" stroke-linecap="butt"/>
<line x1="461.70" y1="655.85" x2="466.90" y2="655.85" stroke="#4a4a4a" stroke-width="0.8" stroke-linecap="butt"/>
<line x1="461.70" y1="671.64" x2="466.90" y2="671.64" stroke="#4a4a4a" stroke-width="0.8" stroke-linecap="butt"/>
<line x1="473.52" y1="670.76" x2="473.52" y2="651.75" stroke="#4a4a4a" stroke-width="0.8" stroke-linecap="butt"/>
<line x1="470.92" y1="651.75" x2="476.12" y2="651.75" stroke="#4a4a4a" stroke-width="0.8" stroke-linecap="butt"/>
<line x1="470.92" y1="670.76" x2="476.12" y2="670.76" stroke="#4a4a4a" stroke-width="0.8" stroke-linecap="butt"/>
<line x1="482.74" y1="670.76" x2="482.74" y2="651.75" stroke="#4a4a4a" stroke-width="0.8" stroke-linecap="butt"/>
<line x1="480.14" y1="651.75" x2="485.34" y2="651.75" stroke="#4a4a4a" stroke-width="0.8" stroke-linecap="butt"/>
<line x1="480.14" y1="670.76" x2="485.34" y2="670.76" stroke="#4a4a4a" stroke-width="0.8" stroke-linecap="butt"/>
<line x1="491.96" y1="670.76" x2="491.96" y2="651.75" stroke="#4a4a4a" stroke-width="0.8" stroke-linecap="butt"/>
<line x1="489.36" y1="651.75" x2="494.56" y2="651.75" stroke="#4a4a4a" stroke-width="0.8" stroke-linecap="butt"/>
<line x1="489.36" y1="670.76" x2="494.56" y2="670.76" stroke="#4a4a4a" stroke-width="0.8" stroke-linecap="butt"/>
<polyline points="326.00,768.75 335.22,768.75 344.44,768.75 353.66,768.75 362.88,768.75 372.10,768.75 381.32,768.75 390.54,768.75 399.76,768.75 408.98,759.10 418.20,749.15 427.42,705.28 436.64,688.31 445.86,666.38 455.08,668.72 464.30,664.03 473.52,661.40 482.74,661.40 491.96,661.40" fill="none" stroke="#000" stroke-width="1.2"/>
<rect x="323.30" y="766.05" width="5.40" height="5.40" fill="#000" stroke="#000" stroke-width="1"/>
<rect x="332.52" y="766.05" width="5.40" height="5.40" fill="#000" stroke="#000" stroke-width="1"/>
<rect x="341.74" y="766.05" width="5.40" height="5.40" fill="#000" stroke="#000" stroke-width="1"/>
<rect x="350.96" y="766.05" width="5.40" height="5.40" fill="#000" stroke="#000" stroke-width="1"/>
<rect x="360.18" y="766.05" width="5.40" height="5.40" fill="#000" stroke="#000" stroke-width="1"/>
<rect x="369.40" y="766.05" width="5.40" height="5.40" fill="#000" stroke="#000" stroke-width="1"/>
<rect x="378.62" y="766.05" width="5.40" height="5.40" fill="#000" stroke="#000" stroke-width="1"/>
<rect x="387.84" y="766.05" width="5.40" height="5.40" fill="#000" stroke="#000" stroke-width="1"/>
<rect x="397.06" y="766.05" width="5.40" height="5.40" fill="#000" stroke="#000" stroke-width="1"/>
<rect x="406.28" y="756.40" width="5.40" height="5.40" fill="#000" stroke="#000" stroke-width="1"/>
<rect x="415.50" y="746.45" width="5.40" height="5.40" fill="#000" stroke="#000" stroke-width="1"/>
<rect x="424.72" y="702.58" width="5.40" height="5.40" fill="#000" stroke="#000" stroke-width="1"/>
<rect x="433.94" y="685.61" width="5.40" height="5.40" fill="#000" stroke="#000" stroke-width="1"/>
<rect x="443.16" y="663.67" width="5.40" height="5.40" fill="#000" stroke="#000" stroke-width="1"/>
<rect x="452.38" y="666.01" width="5.40" height="5.40" fill="#000" stroke="#000" stroke-width="1"/>
<rect x="461.60" y="661.33" width="5.40" height="5.40" fill="#000" stroke="#000" stroke-width="1"/>
<rect x="470.82" y="658.70" width="5.40" height="5.40" fill="#000" stroke="#000" stroke-width="1"/>
<rect x="480.04" y="658.70" width="5.40" height="5.40" fill="#000" stroke="#000" stroke-width="1"/>
<rect x="489.26" y="658.70" width="5.40" height="5.40" fill="#000" stroke="#000" stroke-width="1"/>
<line x1="418.20" y1="768.75" x2="418.20" y2="754.12" stroke="#4a4a4a" stroke-width="0.8" stroke-linecap="butt"/>
<line x1="415.60" y1="754.12" x2="420.80" y2="754.12" stroke="#4a4a4a" stroke-width="0.8" stroke-linecap="butt"/>
<line x1="464.30" y1="768.75" x2="464.30" y2="729.26" stroke="#4a4a4a" stroke-width="0.8" stroke-linecap="butt"/>
<line x1="461.70" y1="729.26" x2="466.90" y2="729.26" stroke="#4a4a4a" stroke-width="0.8" stroke-linecap="butt"/>
<line x1="473.52" y1="755.00" x2="473.52" y2="708.79" stroke="#4a4a4a" stroke-width="0.8" stroke-linecap="butt"/>
<line x1="470.92" y1="708.79" x2="476.12" y2="708.79" stroke="#4a4a4a" stroke-width="0.8" stroke-linecap="butt"/>
<line x1="470.92" y1="755.00" x2="476.12" y2="755.00" stroke="#4a4a4a" stroke-width="0.8" stroke-linecap="butt"/>
<line x1="482.74" y1="735.11" x2="482.74" y2="685.10" stroke="#4a4a4a" stroke-width="0.8" stroke-linecap="butt"/>
<line x1="480.14" y1="685.10" x2="485.34" y2="685.10" stroke="#4a4a4a" stroke-width="0.8" stroke-linecap="butt"/>
<line x1="480.14" y1="735.11" x2="485.34" y2="735.11" stroke="#4a4a4a" stroke-width="0.8" stroke-linecap="butt"/>
<line x1="491.96" y1="741.25" x2="491.96" y2="674.27" stroke="#4a4a4a" stroke-width="0.8" stroke-linecap="butt"/>
<line x1="489.36" y1="674.27" x2="494.56" y2="674.27" stroke="#4a4a4a" stroke-width="0.8" stroke-linecap="butt"/>
<line x1="489.36" y1="741.25" x2="494.56" y2="741.25" stroke="#4a4a4a" stroke-width="0.8" stroke-linecap="butt"/>
<polyline points="326.00,768.75 335.22,768.75 344.44,768.75 353.66,768.75 362.88,768.75 372.10,768.75 381.32,768.75 390.54,768.75 399.76,768.75 408.98,765.83 418.20,761.44 427.42,768.75 436.64,768.75 445.86,768.75 455.08,768.75 464.30,749.15 473.52,732.19 482.74,710.25 491.96,707.91" fill="none" stroke="#000" stroke-width="1.2"/>
<rect x="323.30" y="766.05" width="5.40" height="5.40" fill="#fff" stroke="#000" stroke-width="1"/>
<rect x="332.52" y="766.05" width="5.40" height="5.40" fill="#fff" stroke="#000" stroke-width="1"/>
<rect x="341.74" y="766.05" width="5.40" height="5.40" fill="#fff" stroke="#000" stroke-width="1"/>
<rect x="350.96" y="766.05" width="5.40" height="5.40" fill="#fff" stroke="#000" stroke-width="1"/>
<rect x="360.18" y="766.05" width="5.40" height="5.40" fill="#fff" stroke="#000" stroke-width="1"/>
<rect x="369.40" y="766.05" width="5.40" height="5.40" fill="#fff" stroke="#000" stroke-width="1"/>
<rect x="378.62" y="766.05" width="5.40" height="5.40" fill="#fff" stroke="#000" stroke-width="1"/>
<rect x="387.84" y="766.05" width="5.40" height="5.40" fill="#fff" stroke="#000" stroke-width="1"/>
<rect x="397.06" y="766.05" width="5.40" height="5.40" fill="#fff" stroke="#000" stroke-width="1"/>
<rect x="406.28" y="763.12" width="5.40" height="5.40" fill="#fff" stroke="#000" stroke-width="1"/>
<rect x="415.50" y="758.74" width="5.40" height="5.40" fill="#fff" stroke="#000" stroke-width="1"/>
<rect x="424.72" y="766.05" width="5.40" height="5.40" fill="#fff" stroke="#000" stroke-width="1"/>
<rect x="433.94" y="766.05" width="5.40" height="5.40" fill="#fff" stroke="#000" stroke-width="1"/>
<rect x="443.16" y="766.05" width="5.40" height="5.40" fill="#fff" stroke="#000" stroke-width="1"/>
<rect x="452.38" y="766.05" width="5.40" height="5.40" fill="#fff" stroke="#000" stroke-width="1"/>
<rect x="461.60" y="746.45" width="5.40" height="5.40" fill="#fff" stroke="#000" stroke-width="1"/>
<rect x="470.82" y="729.49" width="5.40" height="5.40" fill="#fff" stroke="#000" stroke-width="1"/>
<rect x="480.04" y="707.55" width="5.40" height="5.40" fill="#fff" stroke="#000" stroke-width="1"/>
<rect x="489.26" y="705.21" width="5.40" height="5.40" fill="#fff" stroke="#000" stroke-width="1"/>
<line x1="60.00" y1="651.75" x2="71.00" y2="651.75" stroke="#000" stroke-width="1.2" stroke-linecap="butt"/>
<circle cx="65" cy="651.75" r="2.4" fill="#000" stroke="#000"/>
<line x1="60.00" y1="665.75" x2="71.00" y2="665.75" stroke="#000" stroke-width="1.2" stroke-linecap="butt"/>
<circle cx="65" cy="665.75" r="2.5" fill="#fff" stroke="#000" stroke-width="1.1"/>
<text x="79.50" y="655.80" font-size="11" text-anchor="start" fill="#000" >IL-4<tspan dy="-3.5" font-size="7.5">-/-</tspan><tspan dy="3.5"> </tspan>+ PBS</text>
<text x="79.50" y="669.80" font-size="11" text-anchor="start" fill="#000" >IL-4<tspan dy="-3.5" font-size="7.5">-/-</tspan><tspan dy="3.5"> </tspan>+ FHES</text>
<line x1="326.50" y1="655.50" x2="338.00" y2="655.50" stroke="#000" stroke-width="1.2" stroke-linecap="butt"/>
<rect x="330.00" y="653.30" width="4.40" height="4.40" fill="#000" stroke="#000" stroke-width="1"/>
<line x1="326.50" y1="671.25" x2="338.00" y2="671.25" stroke="#000" stroke-width="1.2" stroke-linecap="butt"/>
<rect x="330.00" y="669.05" width="4.40" height="4.40" fill="#fff" stroke="#000" stroke-width="1"/>
<text x="347.00" y="659.50" font-size="11" text-anchor="start" fill="#000" >WT + PBS</text>
<text x="347.00" y="675.20" font-size="11" text-anchor="start" fill="#000" >WT + FHES</text>
<text x="143.00" y="799.00" font-size="11" text-anchor="middle" fill="#000" >Days post induction</text>
<text x="199.00" y="728.00" font-size="8.5" text-anchor="middle" font-weight="bold" fill="#000" >**</text>
<text x="208.30" y="717.30" font-size="8.5" text-anchor="middle" font-weight="bold" fill="#000" >**</text>
<text x="217.50" y="712.30" font-size="8.5" text-anchor="middle" font-weight="bold" fill="#000" >***</text>
<text x="226.70" y="702.80" font-size="8.5" text-anchor="middle" font-weight="bold" fill="#000" >**</text>
</svg>
</body></html>
